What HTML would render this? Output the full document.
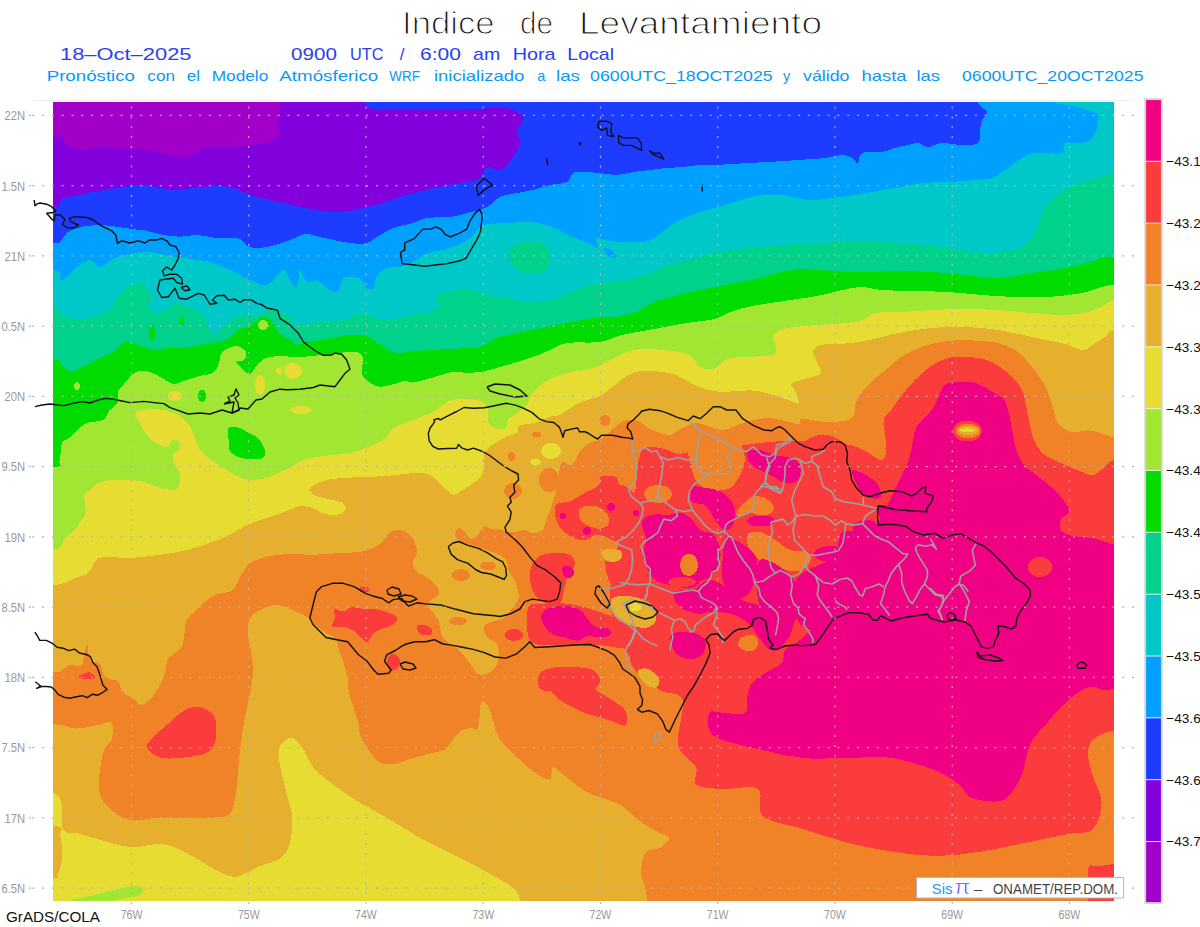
<!DOCTYPE html>
<html><head><meta charset="utf-8"><title>Indice de Levantamiento</title>
<style>
html,body{margin:0;padding:0;background:#fff;}
body{width:1200px;height:927px;overflow:hidden;position:relative;}
svg{position:absolute;left:0;top:0;}
text{font-family:"Liberation Sans",sans-serif;}
</style></head><body>
<svg width="1200" height="927" viewBox="0 0 1200 927">
<defs><clipPath id="mc"><rect x="53" y="102" width="1061" height="799"/></clipPath><clipPath id="fc"><rect x="33" y="101" width="1101" height="802"/></clipPath></defs>

<g clip-path="url(#mc)" shape-rendering="crispEdges">
<rect x="53" y="102" width="1061" height="799" fill="#1e3cff"/>
<path fill="#8200dc" d="M-20.0 85.0 L353.0 85.0 L367.0 107.0 C374.8 111.2 386.2 109.5 400.0 110.0 C413.8 110.5 433.3 110.3 450.0 110.0 C466.7 109.7 489.5 108.0 500.0 108.0 C510.5 108.0 509.2 108.3 513.0 110.0 C516.8 111.7 522.3 114.3 523.0 118.0 C523.7 121.7 517.5 127.8 517.0 132.0 C516.5 136.2 520.7 138.8 520.0 143.0 C519.3 147.2 516.3 152.5 513.0 157.0 C509.7 161.5 504.3 168.3 500.0 170.0 C495.7 171.7 490.3 165.7 487.0 167.0 C483.7 168.3 483.3 175.5 480.0 178.0 C476.7 180.5 474.8 180.3 467.0 182.0 C459.2 183.7 444.2 185.5 433.0 188.0 C421.8 190.5 408.3 194.5 400.0 197.0 C391.7 199.5 388.5 201.3 383.0 203.0 C377.5 204.7 372.5 205.7 367.0 207.0 C361.5 208.3 355.7 210.2 350.0 211.0 C344.3 211.8 338.5 212.2 333.0 212.0 C327.5 211.8 322.5 210.8 317.0 210.0 C311.5 209.2 305.7 208.2 300.0 207.0 C294.3 205.8 291.3 205.0 283.0 203.0 C274.7 201.0 258.8 197.7 250.0 195.0 C241.2 192.3 238.3 188.3 230.0 187.0 C221.7 185.7 208.8 186.5 200.0 187.0 C191.2 187.5 183.7 189.8 177.0 190.0 C170.3 190.2 165.7 188.8 160.0 188.0 C154.3 187.2 150.2 185.0 143.0 185.0 C135.8 185.0 125.3 186.8 117.0 188.0 C108.7 189.2 100.8 190.5 93.0 192.0 C85.2 193.5 75.5 195.7 70.0 197.0 C64.5 198.3 62.8 198.3 60.0 200.0 C57.2 201.7 66.3 205.8 53.0 207.0 L-20.0 207.0 L-20.0 85.0 Z"/>
<path fill="#a000c8" d="M-20.0 85.0 L277.0 85.0 L280.0 113.0 C280.0 119.3 277.0 119.3 277.0 123.0 C277.0 126.7 282.3 131.7 280.0 135.0 C277.7 138.3 270.2 141.0 263.0 143.0 C255.8 145.0 246.3 146.2 237.0 147.0 C227.7 147.8 214.8 146.7 207.0 148.0 C199.2 149.3 195.0 153.5 190.0 155.0 C185.0 156.5 183.7 157.8 177.0 157.0 C170.3 156.2 158.3 151.3 150.0 150.0 C141.7 148.7 134.2 149.5 127.0 149.0 C119.8 148.5 112.7 147.0 107.0 147.0 C101.3 147.0 97.5 148.5 93.0 149.0 C88.5 149.5 83.8 150.3 80.0 150.0 C76.2 149.7 72.5 148.3 70.0 147.0 C67.5 145.7 66.3 143.8 65.0 142.0 C63.7 140.2 64.0 136.8 62.0 136.0 C60.0 135.2 66.7 136.8 53.0 137.0 L-20.0 137.0 L-20.0 85.0 Z"/>
<path fill="#00a0ff" d="M-20.0 243.0 L53.0 243.0 C66.3 242.8 57.5 243.6 60.0 241.7 C62.5 239.8 65.0 234.1 68.3 231.7 C71.6 229.3 76.7 228.5 80.0 227.5 C83.3 226.5 84.1 226.2 88.3 225.8 C92.5 225.4 99.4 225.0 105.0 225.3 C110.6 225.6 117.0 226.8 121.7 227.5 C126.4 228.2 129.1 228.6 133.3 229.2 C137.5 229.8 141.7 229.8 146.7 230.8 C151.7 231.8 157.8 234.0 163.3 235.0 C168.9 236.0 174.4 236.7 180.0 236.7 C185.6 236.7 191.1 234.9 196.7 235.0 C202.2 235.1 207.8 236.9 213.3 237.5 C218.9 238.1 225.6 238.1 230.0 238.3 C234.4 238.6 236.7 237.6 240.0 239.0 C243.3 240.4 245.5 245.7 250.0 247.0 C254.5 248.3 260.3 248.2 267.0 247.0 C273.7 245.8 283.7 242.2 290.0 240.0 C296.3 237.8 300.0 234.5 305.0 234.0 C310.0 233.5 312.5 235.5 320.0 237.0 C327.5 238.5 342.2 242.0 350.0 243.0 C357.8 244.0 362.5 244.0 367.0 243.0 C371.5 242.0 372.7 239.5 377.0 237.0 C381.3 234.5 387.0 230.3 393.0 228.0 C399.0 225.7 407.3 224.7 413.0 223.0 C418.7 221.3 420.8 219.0 427.0 218.0 C433.2 217.0 443.3 217.8 450.0 217.0 C456.7 216.2 460.8 214.7 467.0 213.0 C473.2 211.3 481.5 209.7 487.0 207.0 C492.5 204.3 495.0 199.3 500.0 197.0 C505.0 194.7 511.5 194.2 517.0 193.0 C522.5 191.8 527.5 191.3 533.0 190.0 C538.5 188.7 544.3 186.3 550.0 185.0 C555.7 183.7 563.2 184.0 567.0 182.0 C570.8 180.0 570.3 174.7 573.0 173.0 C575.7 171.3 578.5 172.0 583.0 172.0 C587.5 172.0 594.3 172.5 600.0 173.0 C605.7 173.5 611.5 175.2 617.0 175.0 C622.5 174.8 627.5 172.8 633.0 172.0 C638.5 171.2 644.3 170.7 650.0 170.0 C655.7 169.3 661.5 168.5 667.0 168.0 C672.5 167.5 677.5 167.5 683.0 167.0 C688.5 166.5 694.7 165.3 700.0 165.0 C705.3 164.7 707.0 165.3 715.0 165.0 C723.0 164.7 739.2 163.5 748.0 163.0 C756.8 162.5 759.7 162.5 768.0 162.0 C776.3 161.5 788.5 160.7 798.0 160.0 C807.5 159.3 817.7 158.8 825.0 158.0 C832.3 157.2 837.5 155.0 842.0 155.0 C846.5 155.0 849.3 156.7 852.0 158.0 C854.7 159.3 856.3 163.8 858.0 163.0 C859.7 162.2 858.0 154.8 862.0 153.0 C866.0 151.2 876.5 152.8 882.0 152.0 C887.5 151.2 890.7 149.2 895.0 148.0 C899.3 146.8 904.2 145.8 908.0 145.0 C911.8 144.2 914.7 142.7 918.0 143.0 C921.3 143.3 924.0 147.0 928.0 147.0 C932.0 147.0 936.3 143.3 942.0 143.0 C947.7 142.7 956.0 145.0 962.0 145.0 C968.0 145.0 975.0 145.5 978.0 143.0 C981.0 140.5 979.3 133.8 980.0 130.0 C980.7 126.2 980.8 123.0 982.0 120.0 C983.2 117.0 987.7 114.8 987.0 112.0 C986.3 109.2 979.5 107.5 978.0 103.0 L978.0 85.0 L1140.0 85.0 L1140.0 920.0 L-20.0 920.0 L-20.0 243.0 Z"/>
<path fill="#00c8c8" d="M-20.0 270.0 L53.0 270.0 C66.3 271.7 57.7 278.8 60.0 280.0 C62.3 281.2 64.2 279.2 67.0 277.0 C69.8 274.8 73.2 269.8 77.0 267.0 C80.8 264.2 86.2 260.0 90.0 260.0 C93.8 260.0 95.5 267.5 100.0 267.0 C104.5 266.5 110.8 259.3 117.0 257.0 C123.2 254.7 131.5 253.8 137.0 253.0 C142.5 252.2 143.3 251.3 150.0 252.0 C156.7 252.7 169.2 255.7 177.0 257.0 C184.8 258.3 191.5 259.2 197.0 260.0 C202.5 260.8 204.5 260.3 210.0 262.0 C215.5 263.7 223.3 267.0 230.0 270.0 C236.7 273.0 243.8 277.5 250.0 280.0 C256.2 282.5 261.5 286.7 267.0 285.0 C272.5 283.3 279.2 270.8 283.0 270.0 C286.8 269.2 287.7 277.2 290.0 280.0 C292.3 282.8 295.3 288.7 297.0 287.0 C298.7 285.3 298.7 271.2 300.0 270.0 C301.3 268.8 303.1 278.1 305.0 280.0 C306.9 281.9 310.0 281.7 311.7 281.7 C313.4 281.7 313.3 279.7 315.0 280.0 C316.7 280.3 319.2 281.6 321.7 283.3 C324.2 285.0 327.2 288.6 330.0 290.0 C332.8 291.4 336.1 293.6 338.3 291.7 C340.5 289.8 340.0 280.7 343.3 278.3 C346.6 275.9 355.0 276.7 358.3 277.5 C361.6 278.3 361.9 281.5 363.3 283.3 C364.7 285.1 365.0 287.5 366.7 288.3 C368.4 289.1 371.6 290.2 373.3 288.3 C375.0 286.4 374.5 280.0 376.7 276.7 C378.9 273.4 382.8 269.9 386.7 268.3 C390.6 266.7 396.4 267.7 400.0 267.0 C403.6 266.3 405.2 265.2 408.0 264.0 C410.8 262.8 414.2 261.7 417.0 260.0 C419.8 258.3 420.8 255.7 425.0 254.0 C429.2 252.3 436.5 251.5 442.0 250.0 C447.5 248.5 453.0 247.2 458.0 245.0 C463.0 242.8 468.3 240.0 472.0 237.0 C475.7 234.0 477.0 229.2 480.0 227.0 C483.0 224.8 485.0 224.7 490.0 224.0 C495.0 223.3 503.3 223.3 510.0 223.0 C516.7 222.7 523.3 221.5 530.0 222.0 C536.7 222.5 544.0 224.0 550.0 226.0 C556.0 228.0 561.0 231.7 566.0 234.0 C571.0 236.3 576.0 238.3 580.0 240.0 C584.0 241.7 587.0 242.7 590.0 244.0 C593.0 245.3 597.0 249.0 598.0 248.0 C599.0 247.0 595.0 239.3 596.0 238.0 C597.0 236.7 600.0 239.3 604.0 240.0 C608.0 240.7 614.0 241.7 620.0 242.0 C626.0 242.3 635.0 242.3 640.0 242.0 C645.0 241.7 646.7 241.3 650.0 240.0 C653.3 238.7 656.7 236.3 660.0 234.0 C663.3 231.7 666.7 228.3 670.0 226.0 C673.3 223.7 675.0 222.3 680.0 220.0 C685.0 217.7 694.2 214.0 700.0 212.0 C705.8 210.0 709.7 209.5 715.0 208.0 C720.3 206.5 726.5 204.7 732.0 203.0 C737.5 201.3 742.5 199.3 748.0 198.0 C753.5 196.7 759.3 195.5 765.0 195.0 C770.7 194.5 774.8 194.2 782.0 195.0 C789.2 195.8 799.7 199.5 808.0 200.0 C816.3 200.5 824.2 198.8 832.0 198.0 C839.8 197.2 846.7 196.3 855.0 195.0 C863.3 193.7 874.2 191.3 882.0 190.0 C889.8 188.7 895.3 188.2 902.0 187.0 C908.7 185.8 914.3 183.8 922.0 183.0 C929.7 182.2 939.2 182.5 948.0 182.0 C956.8 181.5 967.7 180.7 975.0 180.0 C982.3 179.3 987.0 179.7 992.0 178.0 C997.0 176.3 1000.0 173.3 1005.0 170.0 C1010.0 166.7 1017.0 160.8 1022.0 158.0 C1027.0 155.2 1028.3 153.8 1035.0 153.0 C1041.7 152.2 1057.0 154.7 1062.0 153.0 C1067.0 151.3 1061.7 144.7 1065.0 143.0 C1068.3 141.3 1077.5 143.8 1082.0 143.0 C1086.5 142.2 1089.5 140.7 1092.0 138.0 C1094.5 135.3 1096.0 130.8 1097.0 127.0 C1098.0 123.2 1099.5 117.8 1098.0 115.0 C1096.5 112.2 1093.0 111.7 1088.0 110.0 C1083.0 108.3 1073.5 106.3 1068.0 105.0 C1062.5 103.7 1057.2 105.3 1055.0 102.0 L1055.0 85.0 L1140.0 85.0 L1140.0 920.0 L-20.0 920.0 L-20.0 270.0 Z"/>
<path fill="#00d28c" d="M-20.0 308.0 L53.0 308.0 C66.3 309.0 57.2 312.3 60.0 314.0 C62.8 315.7 66.7 317.2 70.0 318.0 C73.3 318.8 76.7 319.0 80.0 319.0 C83.3 319.0 86.7 318.7 90.0 318.0 C93.3 317.3 96.7 316.7 100.0 315.0 C103.3 313.3 107.3 310.5 110.0 308.0 C112.7 305.5 114.0 302.7 116.0 300.0 C118.0 297.3 119.7 294.3 122.0 292.0 C124.3 289.7 127.3 287.3 130.0 286.0 C132.7 284.7 135.3 284.0 138.0 284.0 C140.7 284.0 143.7 283.7 146.0 286.0 C148.3 288.3 151.7 294.7 152.0 298.0 C152.3 301.3 147.7 303.7 148.0 306.0 C148.3 308.3 151.7 311.0 154.0 312.0 C156.3 313.0 159.3 313.0 162.0 312.0 C164.7 311.0 167.0 307.3 170.0 306.0 C173.0 304.7 176.7 303.7 180.0 304.0 C183.3 304.3 186.3 306.3 190.0 308.0 C193.7 309.7 199.3 312.0 202.0 314.0 C204.7 316.0 204.7 317.3 206.0 320.0 C207.3 322.7 208.3 327.7 210.0 330.0 C211.7 332.3 213.7 334.7 216.0 334.0 C218.3 333.3 221.0 328.7 224.0 326.0 C227.0 323.3 231.0 320.0 234.0 318.0 C237.0 316.0 239.3 314.3 242.0 314.0 C244.7 313.7 247.3 316.0 250.0 316.0 C252.7 316.0 255.3 315.0 258.0 314.0 C260.7 313.0 263.3 310.7 266.0 310.0 C268.7 309.3 271.7 309.7 274.0 310.0 C276.3 310.3 277.9 311.2 280.0 312.0 C282.1 312.8 284.6 313.9 286.7 315.0 C288.8 316.1 291.4 316.6 292.5 318.3 C293.6 320.0 289.8 324.3 293.3 325.0 C296.8 325.7 307.2 323.1 313.3 322.5 C319.4 321.9 324.4 322.2 330.0 321.7 C335.6 321.1 342.5 320.3 346.7 319.2 C350.9 318.1 352.2 316.0 355.0 315.0 C357.8 314.0 360.2 313.0 363.3 313.3 C366.4 313.6 370.0 315.6 373.3 316.7 C376.6 317.8 379.4 319.7 383.3 320.0 C387.2 320.3 391.7 319.1 396.7 318.3 C401.7 317.5 407.8 316.1 413.3 315.0 C418.9 313.9 425.6 313.2 430.0 311.7 C434.4 310.2 439.0 308.3 440.0 306.0 C441.0 303.7 434.8 300.3 436.0 298.0 C437.2 295.7 442.5 293.3 447.0 292.0 C451.5 290.7 458.3 290.2 463.0 290.0 C467.7 289.8 471.0 290.2 475.0 291.0 C479.0 291.8 481.7 293.8 487.0 295.0 C492.3 296.2 500.3 296.8 507.0 298.0 C513.7 299.2 519.8 301.7 527.0 302.0 C534.2 302.3 543.3 301.3 550.0 300.0 C556.7 298.7 561.5 296.2 567.0 294.0 C572.5 291.8 577.5 288.8 583.0 287.0 C588.5 285.2 594.3 284.0 600.0 283.0 C605.7 282.0 611.5 281.8 617.0 281.0 C622.5 280.2 627.5 279.3 633.0 278.0 C638.5 276.7 644.3 275.0 650.0 273.0 C655.7 271.0 661.5 268.0 667.0 266.0 C672.5 264.0 677.5 262.5 683.0 261.0 C688.5 259.5 694.7 258.3 700.0 257.0 C705.3 255.7 707.0 254.5 715.0 253.0 C723.0 251.5 736.8 249.3 748.0 248.0 C759.2 246.7 770.8 245.8 782.0 245.0 C793.2 244.2 804.0 243.5 815.0 243.0 C826.0 242.5 836.8 242.2 848.0 242.0 C859.2 241.8 870.8 241.7 882.0 242.0 C893.2 242.3 904.0 243.0 915.0 244.0 C926.0 245.0 936.8 246.5 948.0 248.0 C959.2 249.5 973.0 252.3 982.0 253.0 C991.0 253.7 995.3 253.0 1002.0 252.0 C1008.7 251.0 1016.5 250.2 1022.0 247.0 C1027.5 243.8 1031.7 238.7 1035.0 233.0 C1038.3 227.3 1039.8 218.0 1042.0 213.0 C1044.2 208.0 1044.2 206.8 1048.0 203.0 C1051.8 199.2 1059.3 193.5 1065.0 190.0 C1070.7 186.5 1076.5 184.0 1082.0 182.0 C1087.5 180.0 1092.7 179.5 1098.0 178.0 C1103.3 176.5 1107.0 173.8 1114.0 173.0 L1140.0 173.0 L1140.0 920.0 L-20.0 920.0 L-20.0 308.0 Z"/>
<path fill="#00dc00" d="M-20.0 360.0 L53.0 360.0 C66.3 360.7 57.2 362.0 60.0 364.0 C62.8 366.0 66.7 371.3 70.0 372.0 C73.3 372.7 76.7 369.3 80.0 368.0 C83.3 366.7 86.7 365.7 90.0 364.0 C93.3 362.3 96.7 359.7 100.0 358.0 C103.3 356.3 106.7 356.0 110.0 354.0 C113.3 352.0 117.3 348.0 120.0 346.0 C122.7 344.0 123.3 342.3 126.0 342.0 C128.7 341.7 132.7 343.0 136.0 344.0 C139.3 345.0 142.7 347.0 146.0 348.0 C149.3 349.0 152.7 350.0 156.0 350.0 C159.3 350.0 162.7 348.3 166.0 348.0 C169.3 347.7 172.0 348.2 176.0 348.0 C180.0 347.8 185.0 347.7 190.0 347.0 C195.0 346.3 201.0 344.8 206.0 344.0 C211.0 343.2 216.0 343.0 220.0 342.0 C224.0 341.0 227.0 340.0 230.0 338.0 C233.0 336.0 234.7 332.0 238.0 330.0 C241.3 328.0 246.3 328.0 250.0 326.0 C253.7 324.0 257.0 319.3 260.0 318.0 C263.0 316.7 265.3 316.3 268.0 318.0 C270.7 319.7 273.7 325.0 276.0 328.0 C278.3 331.0 279.7 334.0 282.0 336.0 C284.3 338.0 287.6 338.5 290.0 340.0 C292.4 341.5 294.2 344.7 296.7 345.0 C299.2 345.3 300.8 342.5 305.0 341.7 C309.2 340.9 316.1 340.8 321.7 340.0 C327.2 339.2 333.6 337.5 338.3 336.7 C343.0 335.9 345.8 335.3 350.0 335.0 C354.2 334.7 359.4 334.2 363.3 335.0 C367.2 335.8 370.0 338.1 373.3 340.0 C376.6 341.9 379.4 344.5 383.3 346.7 C387.2 348.9 392.8 352.5 396.7 353.3 C400.6 354.1 401.1 352.2 406.7 351.7 C412.2 351.1 423.3 350.4 430.0 350.0 C436.7 349.6 441.1 349.5 446.7 349.2 C452.2 348.9 457.8 348.7 463.3 348.3 C468.9 347.9 473.9 348.9 480.0 347.0 C486.1 345.1 491.2 339.8 500.0 337.0 C508.8 334.2 521.8 332.3 533.0 330.0 C544.2 327.7 555.8 325.2 567.0 323.0 C578.2 320.8 591.7 318.0 600.0 317.0 C608.3 316.0 610.8 317.8 617.0 317.0 C623.2 316.2 630.8 314.5 637.0 312.0 C643.2 309.5 645.7 305.2 654.0 302.0 C662.3 298.8 676.2 295.7 687.0 293.0 C697.8 290.3 708.2 288.2 719.0 286.0 C729.8 283.8 741.5 282.3 752.0 280.0 C762.5 277.7 773.7 273.8 782.0 272.0 C790.3 270.2 793.7 269.2 802.0 269.0 C810.3 268.8 821.5 270.5 832.0 271.0 C842.5 271.5 854.0 272.0 865.0 272.0 C876.0 272.0 886.8 271.0 898.0 271.0 C909.2 271.0 920.8 271.3 932.0 272.0 C943.2 272.7 954.0 274.0 965.0 275.0 C976.0 276.0 986.8 278.3 998.0 278.0 C1009.2 277.7 1020.8 274.7 1032.0 273.0 C1043.2 271.3 1055.7 269.7 1065.0 268.0 C1074.3 266.3 1081.8 264.7 1088.0 263.0 C1094.2 261.3 1097.7 259.0 1102.0 258.0 C1106.3 257.0 1107.7 257.2 1114.0 257.0 L1140.0 257.0 L1140.0 920.0 L-20.0 920.0 L-20.0 360.0 Z"/>
<path fill="#a0e632" d="M-20.0 467.0 L53.0 467.0 C66.2 466.0 58.0 465.0 59.5 461.0 C61.0 457.0 60.4 446.8 62.0 443.0 C63.6 439.2 65.2 441.2 69.0 438.0 C72.8 434.8 79.3 427.0 85.0 424.0 C90.7 421.0 99.0 422.2 103.0 420.0 C107.0 417.8 106.5 414.0 109.0 411.0 C111.5 408.0 116.5 405.2 118.0 402.0 C119.5 398.8 117.0 395.0 118.0 392.0 C119.0 389.0 121.0 387.3 124.0 384.0 C127.0 380.7 131.7 374.0 136.0 372.0 C140.3 370.0 145.7 371.0 150.0 372.0 C154.3 373.0 158.0 376.0 162.0 378.0 C166.0 380.0 170.0 383.7 174.0 384.0 C178.0 384.3 181.7 381.3 186.0 380.0 C190.3 378.7 195.3 377.3 200.0 376.0 C204.7 374.7 210.7 374.7 214.0 372.0 C217.3 369.3 218.7 363.3 220.0 360.0 C221.3 356.7 219.3 354.3 222.0 352.0 C224.7 349.7 232.0 346.0 236.0 346.0 C240.0 346.0 244.7 349.7 246.0 352.0 C247.3 354.3 245.7 358.3 244.0 360.0 C242.3 361.7 236.3 360.7 236.0 362.0 C235.7 363.3 239.7 366.0 242.0 368.0 C244.3 370.0 247.3 374.7 250.0 374.0 C252.7 373.3 255.3 366.7 258.0 364.0 C260.7 361.3 262.3 359.3 266.0 358.0 C269.7 356.7 276.0 356.2 280.0 356.0 C284.0 355.8 285.8 356.6 290.0 356.7 C294.2 356.8 299.7 357.0 305.0 356.7 C310.3 356.4 316.1 355.6 321.7 355.0 C327.2 354.4 333.6 353.9 338.3 353.3 C343.0 352.8 346.4 351.7 350.0 351.7 C353.6 351.7 357.8 351.9 360.0 353.3 C362.2 354.7 363.0 356.7 363.3 360.0 C363.6 363.3 360.9 369.7 361.7 373.3 C362.5 376.9 365.2 379.5 368.3 381.7 C371.4 383.9 375.3 386.4 380.0 386.7 C384.7 387.0 392.5 384.3 396.7 383.3 C400.9 382.3 402.2 380.9 405.0 380.8 C407.8 380.7 409.1 382.9 413.3 382.5 C417.5 382.1 424.4 379.8 430.0 378.3 C435.6 376.8 442.5 374.4 446.7 373.3 C450.9 372.2 452.2 371.8 455.0 371.7 C457.8 371.6 459.1 372.4 463.3 372.5 C467.5 372.6 473.9 372.9 480.0 372.0 C486.1 371.1 491.2 369.5 500.0 367.0 C508.8 364.5 524.7 359.8 533.0 357.0 C541.3 354.2 544.3 352.3 550.0 350.0 C555.7 347.7 558.7 344.3 567.0 343.0 C575.3 341.7 590.8 343.3 600.0 342.0 C609.2 340.7 613.0 337.2 622.0 335.0 C631.0 332.8 643.2 331.0 654.0 329.0 C664.8 327.0 676.8 324.7 687.0 323.0 C697.2 321.3 707.8 320.8 715.0 319.0 C722.2 317.2 723.8 314.2 730.0 312.0 C736.2 309.8 743.0 307.8 752.0 306.0 C761.0 304.2 773.2 302.7 784.0 301.0 C794.8 299.3 808.0 297.7 817.0 296.0 C826.0 294.3 830.8 292.5 838.0 291.0 C845.2 289.5 852.7 287.2 860.0 287.0 C867.3 286.8 872.8 289.3 882.0 290.0 C891.2 290.7 904.0 290.7 915.0 291.0 C926.0 291.3 936.8 291.3 948.0 292.0 C959.2 292.7 970.8 294.2 982.0 295.0 C993.2 295.8 1004.0 296.7 1015.0 297.0 C1026.0 297.3 1036.8 297.7 1048.0 297.0 C1059.2 296.3 1073.0 294.7 1082.0 293.0 C1091.0 291.3 1096.7 288.3 1102.0 287.0 C1107.3 285.7 1107.7 285.3 1114.0 285.0 L1140.0 285.0 L1140.0 920.0 L-20.0 920.0 L-20.0 467.0 Z"/>
<path fill="#e6dc32" d="M-20.0 549.5 L53.0 549.5 C67.0 547.8 60.3 542.2 64.0 539.0 C67.7 535.8 72.2 533.0 75.0 530.0 C77.8 527.0 79.2 523.8 81.0 521.0 C82.8 518.2 84.9 517.3 85.5 513.0 C86.1 508.7 83.7 498.7 84.4 495.0 C85.2 491.3 87.7 493.0 90.0 491.0 C92.3 489.0 94.5 484.8 98.5 483.0 C102.5 481.2 107.1 480.3 114.0 480.0 C120.9 479.7 132.8 479.8 140.0 481.0 C147.2 482.2 151.3 485.5 157.0 487.0 C162.7 488.5 170.3 490.4 174.0 490.0 C177.7 489.6 178.0 487.2 179.0 484.5 C180.0 481.8 180.8 477.6 180.0 474.0 C179.2 470.4 175.2 466.3 174.0 463.0 C172.8 459.7 172.2 456.2 173.0 454.0 C173.8 451.8 178.0 452.0 179.0 450.0 C180.0 448.0 180.0 443.7 179.0 442.0 C178.0 440.3 175.2 439.2 173.0 440.0 C170.8 440.8 169.8 447.2 166.0 447.0 C162.2 446.8 154.8 442.8 150.5 439.0 C146.2 435.2 142.4 428.3 140.0 424.0 C137.6 419.7 135.3 415.3 136.0 413.0 C136.7 410.7 140.5 410.7 144.0 410.0 C147.5 409.3 152.0 408.5 157.0 409.0 C162.0 409.5 169.0 410.8 174.0 413.0 C179.0 415.2 183.7 418.3 187.0 422.0 C190.3 425.7 191.8 430.3 194.0 435.0 C196.2 439.7 196.4 445.3 200.0 450.0 C203.6 454.7 209.3 458.7 215.5 463.0 C221.7 467.3 230.9 473.2 237.0 476.0 C243.1 478.8 246.5 479.8 252.0 480.0 C257.5 480.2 263.5 479.2 270.0 477.0 C276.5 474.8 286.0 469.7 291.0 467.0 C296.0 464.3 295.7 462.7 300.0 461.0 C304.3 459.3 311.6 458.0 317.0 457.0 C322.4 456.0 326.3 455.8 332.5 455.0 C338.7 454.2 347.5 453.6 354.0 452.0 C360.5 450.4 366.0 448.0 371.5 445.5 C377.0 443.0 383.4 439.9 387.0 437.0 C390.6 434.1 389.5 430.5 393.0 428.0 C396.5 425.5 401.8 424.5 408.0 422.0 C414.2 419.5 424.5 415.6 430.0 413.0 C435.5 410.4 437.3 408.7 441.0 406.5 C444.7 404.3 447.2 401.2 452.0 400.0 C456.8 398.8 464.3 398.3 470.0 399.0 C475.7 399.7 482.9 400.2 486.0 404.0 C489.1 407.8 487.0 417.7 488.5 421.7 C490.0 425.7 492.1 426.9 495.0 428.0 C497.9 429.1 503.8 429.4 506.0 428.0 C508.2 426.6 506.2 422.0 508.0 419.5 C509.8 417.0 513.8 415.6 517.0 413.0 C520.2 410.4 524.8 407.5 527.5 404.0 C530.2 400.5 529.2 396.2 533.0 392.0 C536.8 387.8 544.3 382.2 550.0 379.0 C555.7 375.8 561.2 374.5 567.0 373.0 C572.8 371.5 579.5 371.2 585.0 370.0 C590.5 368.8 593.8 368.3 600.0 365.6 C606.2 362.9 614.8 356.8 622.0 354.0 C629.2 351.2 634.0 349.4 643.0 349.0 C652.0 348.6 668.0 350.3 676.0 351.5 C684.0 352.7 687.0 353.4 691.0 356.0 C695.0 358.6 696.3 364.8 700.0 367.0 C703.7 369.2 708.7 370.2 713.0 369.0 C717.3 367.8 721.3 362.0 726.0 360.0 C730.7 358.0 733.2 357.8 741.0 357.0 C748.8 356.2 767.2 357.0 773.0 355.0 C778.8 353.0 775.5 348.2 775.5 345.0 C775.5 341.8 771.6 338.7 773.0 336.0 C774.4 333.3 778.5 330.8 784.0 329.0 C789.5 327.2 798.8 326.3 806.0 325.5 C813.2 324.7 818.5 325.1 827.5 324.4 C836.5 323.6 852.1 322.9 860.0 321.0 C867.9 319.1 868.0 314.5 875.0 313.0 C882.0 311.5 892.5 312.5 902.0 312.0 C911.5 311.5 921.5 310.5 932.0 310.0 C942.5 309.5 954.0 309.0 965.0 309.0 C976.0 309.0 986.8 309.3 998.0 310.0 C1009.2 310.7 1020.8 312.2 1032.0 313.0 C1043.2 313.8 1055.7 315.2 1065.0 315.0 C1074.3 314.8 1081.3 313.7 1088.0 312.0 C1094.7 310.3 1100.7 307.0 1105.0 305.0 C1109.3 303.0 1108.2 300.8 1114.0 300.0 L1140.0 300.0 L1140.0 920.0 L-20.0 920.0 L-20.0 549.5 Z"/>
<path fill="#e6af2d" d="M-20.0 585.0 L53.0 585.0 C68.8 583.8 69.2 580.0 75.0 578.0 C80.8 576.0 84.5 576.0 88.0 573.0 C91.5 570.0 92.8 562.7 96.0 560.0 C99.2 557.3 101.5 557.3 107.0 557.0 C112.5 556.7 121.8 558.2 129.0 558.0 C136.2 557.8 143.3 556.8 150.5 556.0 C157.7 555.2 164.8 554.3 172.0 553.0 C179.2 551.7 185.0 550.8 194.0 548.0 C203.0 545.2 217.0 540.4 226.0 536.5 C235.0 532.6 240.7 527.9 248.0 524.6 C255.3 521.4 262.8 519.6 270.0 517.0 C277.2 514.4 286.0 511.8 291.0 509.0 C296.0 506.2 296.7 503.5 300.0 500.0 C303.3 496.5 308.5 490.6 311.0 488.0 C313.5 485.4 312.5 485.8 315.0 484.5 C317.5 483.2 321.3 481.1 326.0 480.0 C330.7 478.9 336.5 478.5 343.0 478.0 C349.5 477.5 357.7 477.3 365.0 477.0 C372.3 476.7 380.5 476.5 387.0 476.0 C393.5 475.5 398.7 474.5 404.0 474.0 C409.3 473.5 414.7 472.8 419.0 473.0 C423.3 473.2 426.3 473.1 430.0 475.0 C433.7 476.9 437.3 481.3 441.0 484.5 C444.7 487.7 449.2 492.6 452.0 494.0 C454.8 495.4 455.5 494.2 458.0 493.0 C460.5 491.8 463.7 489.2 467.0 487.0 C470.3 484.8 475.2 483.0 478.0 480.0 C480.8 477.0 483.0 473.0 484.0 469.0 C485.0 465.0 483.7 459.2 484.0 456.0 C484.3 452.8 484.2 452.2 486.0 450.0 C487.8 447.8 491.7 445.2 495.0 443.0 C498.3 440.8 502.3 438.8 506.0 437.0 C509.7 435.2 514.8 434.3 517.0 432.5 C519.2 430.7 517.2 427.4 519.0 426.0 C520.8 424.6 524.3 424.7 527.5 424.0 C530.7 423.3 534.4 423.2 538.0 422.0 C541.6 420.8 545.3 418.2 549.0 417.0 C552.7 415.8 555.7 417.0 560.0 415.0 C564.3 413.0 570.0 407.7 575.0 405.0 C580.0 402.3 585.8 400.5 590.0 399.0 C594.2 397.5 596.5 397.8 600.0 396.0 C603.5 394.2 605.6 391.8 611.0 388.0 C616.4 384.2 625.3 375.8 632.5 373.0 C639.7 370.2 646.8 370.7 654.0 371.0 C661.2 371.3 668.8 372.5 676.0 375.0 C683.2 377.5 690.3 383.2 697.5 386.0 C704.7 388.8 709.9 390.9 719.0 391.6 C728.1 392.4 743.0 389.9 752.0 390.5 C761.0 391.1 766.5 393.2 773.0 395.0 C779.5 396.8 786.7 399.6 791.0 401.0 C795.3 402.4 798.3 405.2 799.0 403.5 C799.7 401.8 796.3 393.8 795.0 390.5 C793.7 387.2 789.2 386.0 791.0 384.0 C792.8 382.0 801.0 380.4 806.0 378.6 C811.0 376.8 819.2 375.8 821.0 373.0 C822.8 370.2 818.3 365.6 817.0 362.0 C815.7 358.4 812.3 354.3 813.0 351.5 C813.7 348.7 816.8 346.2 821.0 345.0 C825.2 343.8 831.5 344.5 838.0 344.0 C844.5 343.5 852.7 343.2 860.0 342.0 C867.3 340.8 875.7 338.5 882.0 337.0 C888.3 335.5 889.7 334.5 898.0 333.0 C906.3 331.5 920.8 329.0 932.0 328.0 C943.2 327.0 954.0 326.7 965.0 327.0 C976.0 327.3 986.8 328.3 998.0 330.0 C1009.2 331.7 1020.8 334.7 1032.0 337.0 C1043.2 339.3 1056.7 341.8 1065.0 344.0 C1073.3 346.2 1077.8 349.5 1082.0 350.0 C1086.2 350.5 1086.2 349.2 1090.0 347.0 C1093.8 344.8 1101.0 339.8 1105.0 337.0 C1109.0 334.2 1108.2 331.2 1114.0 330.0 L1140.0 330.0 L1140.0 920.0 L-20.0 920.0 L-20.0 585.0 Z"/>
<path fill="#f08228" d="M-20.0 672.0 L53.0 672.0 C66.7 671.7 59.2 671.2 62.0 670.0 C64.8 668.8 66.8 665.7 70.0 665.0 C73.2 664.3 78.7 667.3 81.0 666.0 C83.3 664.7 83.0 660.7 84.0 657.0 C85.0 653.3 86.0 643.3 87.0 644.0 C88.0 644.7 88.5 658.0 90.0 661.0 C91.5 664.0 94.2 661.2 96.0 662.0 C97.8 662.8 99.8 664.0 101.0 666.0 C102.2 668.0 101.7 671.8 103.0 674.0 C104.3 676.2 106.5 677.8 109.0 679.0 C111.5 680.2 115.8 678.8 118.0 681.0 C120.2 683.2 120.2 689.5 122.0 692.0 C123.8 694.5 126.8 694.7 129.0 696.0 C131.2 697.3 132.8 698.5 135.0 700.0 C137.2 701.5 139.0 705.7 142.0 705.0 C145.0 704.3 149.8 699.7 153.0 696.0 C156.2 692.3 158.8 687.3 161.0 683.0 C163.2 678.7 164.8 674.0 166.0 670.0 C167.2 666.0 165.5 662.7 168.0 659.0 C170.5 655.3 178.3 651.7 181.0 648.0 C183.7 644.3 183.2 641.3 184.0 637.0 C184.8 632.7 184.7 625.8 186.0 622.0 C187.3 618.2 188.8 617.3 192.0 614.0 C195.2 610.7 201.2 605.2 205.0 602.0 C208.8 598.8 210.7 596.8 215.0 595.0 C219.3 593.2 227.3 593.0 231.0 591.0 C234.7 589.0 234.8 586.5 237.0 583.0 C239.2 579.5 241.5 573.5 244.0 570.0 C246.5 566.5 247.7 564.3 252.0 562.0 C256.3 559.7 263.5 557.3 270.0 556.0 C276.5 554.7 283.8 554.2 291.0 554.0 C298.2 553.8 307.8 555.0 313.0 555.0 C318.2 555.0 317.0 554.3 322.0 554.0 C327.0 553.7 335.8 553.5 343.0 553.0 C350.2 552.5 358.8 552.5 365.0 551.0 C371.2 549.5 375.7 547.2 380.0 544.0 C384.3 540.8 387.0 534.2 391.0 532.0 C395.0 529.8 400.3 529.8 404.0 531.0 C407.7 532.2 410.8 535.5 413.0 539.0 C415.2 542.5 417.0 548.2 417.0 552.0 C417.0 555.8 413.3 559.0 413.0 562.0 C412.7 565.0 412.8 567.5 415.0 570.0 C417.2 572.5 422.8 574.8 426.0 577.0 C429.2 579.2 431.8 580.5 434.0 583.0 C436.2 585.5 439.0 589.5 439.0 592.0 C439.0 594.5 435.8 595.8 434.0 598.0 C432.2 600.2 428.0 602.3 428.0 605.0 C428.0 607.7 432.2 611.2 434.0 614.0 C435.8 616.8 437.8 618.8 439.0 622.0 C440.2 625.2 439.7 629.7 441.0 633.0 C442.3 636.3 444.5 639.5 447.0 642.0 C449.5 644.5 453.0 645.5 456.0 648.0 C459.0 650.5 462.2 653.7 465.0 657.0 C467.8 660.3 470.8 665.2 473.0 668.0 C475.2 670.8 475.8 673.0 478.0 674.0 C480.2 675.0 483.2 675.0 486.0 674.0 C488.8 673.0 492.8 670.8 495.0 668.0 C497.2 665.2 498.7 661.0 499.0 657.0 C499.3 653.0 498.3 646.8 497.0 644.0 C495.7 641.2 492.8 641.5 491.0 640.0 C489.2 638.5 487.2 637.2 486.0 635.0 C484.8 632.8 483.2 629.2 484.0 627.0 C484.8 624.8 488.5 623.2 491.0 622.0 C493.5 620.8 496.5 621.0 499.0 620.0 C501.5 619.0 503.3 618.7 506.0 616.0 C508.7 613.3 512.8 607.0 515.0 604.0 C517.2 601.0 518.5 600.2 519.0 598.0 C519.5 595.8 518.7 593.8 518.0 591.0 C517.3 588.2 516.5 584.2 515.0 581.0 C513.5 577.8 510.5 575.5 509.0 572.0 C507.5 568.5 508.3 563.2 506.0 560.0 C503.7 556.8 499.3 555.0 495.0 553.0 C490.7 551.0 484.8 549.7 480.0 548.0 C475.2 546.3 470.0 544.7 466.0 543.0 C462.0 541.3 457.5 540.3 456.0 538.0 C454.5 535.7 455.8 530.3 457.0 529.0 C458.2 527.7 460.7 528.3 463.0 530.0 C465.3 531.7 468.2 538.7 471.0 539.0 C473.8 539.3 477.7 534.2 480.0 532.0 C482.3 529.8 483.2 526.5 485.0 526.0 C486.8 525.5 488.5 528.5 491.0 529.0 C493.5 529.5 497.5 528.5 500.0 529.0 C502.5 529.5 503.5 531.5 506.0 532.0 C508.5 532.5 512.0 532.3 515.0 532.0 C518.0 531.7 521.0 529.8 524.0 530.0 C527.0 530.2 529.8 533.0 533.0 533.0 C536.2 533.0 541.0 531.7 543.0 530.0 C545.0 528.3 544.2 525.5 545.0 523.0 C545.8 520.5 547.0 517.5 548.0 515.0 C549.0 512.5 549.8 511.3 551.0 508.0 C552.2 504.7 553.8 499.7 555.0 495.0 C556.2 490.3 556.8 485.5 558.0 480.0 C559.2 474.5 559.7 464.5 562.0 462.0 C564.3 459.5 568.8 467.0 572.0 465.0 C575.2 463.0 578.0 453.7 581.0 450.0 C584.0 446.3 586.7 444.8 590.0 443.0 C593.3 441.2 597.0 441.5 601.0 439.0 C605.0 436.5 610.5 430.8 614.0 428.0 C617.5 425.2 619.2 423.4 622.0 422.0 C624.8 420.6 628.0 419.5 631.0 419.5 C634.0 419.5 637.2 420.6 640.0 422.0 C642.8 423.4 644.8 426.2 648.0 428.0 C651.2 429.8 655.3 431.3 659.0 432.5 C662.7 433.7 666.7 435.4 670.0 435.0 C673.3 434.6 675.3 431.8 679.0 430.0 C682.7 428.2 688.1 425.0 692.0 424.0 C695.9 423.0 699.0 423.3 702.5 424.0 C706.0 424.7 709.4 427.0 713.0 428.0 C716.6 429.0 720.3 430.3 724.0 430.0 C727.7 429.7 731.3 427.3 735.0 426.0 C738.7 424.7 742.3 423.1 746.0 422.0 C749.7 420.9 753.4 420.2 757.0 419.5 C760.6 418.8 764.0 418.0 767.5 418.0 C771.0 418.0 774.4 418.8 778.0 419.5 C781.6 420.2 785.3 421.2 789.0 422.0 C792.7 422.8 797.9 424.6 800.0 424.0 C802.1 423.4 797.8 419.0 801.7 418.6 C805.6 418.2 816.1 421.4 823.3 421.8 C830.5 422.2 839.9 421.9 845.0 420.8 C850.1 419.7 851.9 418.4 853.7 415.3 C855.5 412.2 854.4 406.3 855.8 402.3 C857.2 398.3 859.0 395.5 862.3 391.5 C865.5 387.5 871.0 382.5 875.3 378.5 C879.6 374.5 884.0 371.3 888.3 367.7 C892.6 364.1 896.2 360.1 901.3 356.8 C906.4 353.6 912.9 350.5 918.7 348.2 C924.5 345.9 930.2 344.1 936.0 342.8 C941.8 341.5 946.8 341.0 953.3 340.6 C959.8 340.2 967.8 340.2 975.0 340.6 C982.2 341.0 989.9 341.2 996.7 342.8 C1003.5 344.4 1010.5 346.9 1016.0 350.5 C1021.5 354.1 1025.3 359.0 1030.0 364.6 C1034.7 370.2 1040.4 377.2 1044.2 384.2 C1048.0 391.2 1050.3 400.1 1052.6 406.7 C1054.9 413.2 1054.9 419.3 1058.2 423.5 C1061.5 427.7 1067.2 430.7 1072.3 431.9 C1077.4 433.1 1083.4 430.0 1089.0 430.5 C1094.6 431.0 1101.9 433.5 1106.0 434.7 C1110.1 435.9 1108.1 437.0 1113.8 437.5 L1140.0 437.5 L1140.0 920.0 L650.0 920.0 L646.0 891.0 C644.5 883.0 641.0 878.5 641.0 872.0 C641.0 865.5 642.8 856.0 646.0 852.0 C649.2 848.0 656.2 850.3 660.0 848.0 C663.8 845.7 669.0 840.5 669.0 838.0 C669.0 835.5 664.2 835.4 660.0 833.0 C655.8 830.6 648.2 826.9 643.5 823.7 C638.8 820.5 635.5 817.2 631.5 814.0 C627.5 810.8 624.7 807.3 619.5 804.5 C614.3 801.7 606.4 799.8 600.4 797.4 C594.4 795.0 590.0 794.2 583.6 790.2 C577.2 786.2 567.2 777.2 562.0 773.4 C556.8 769.6 554.5 766.4 552.5 767.4 C550.5 768.4 552.8 778.4 550.0 779.4 C547.2 780.4 540.9 776.8 535.7 773.4 C530.5 770.0 524.2 763.8 519.0 759.0 C513.8 754.2 508.2 748.7 504.6 744.7 C501.0 740.7 499.8 740.6 497.4 735.0 C495.0 729.4 492.2 716.4 490.2 711.0 C488.2 705.6 487.0 704.0 485.4 702.8 C483.8 701.6 481.8 699.8 480.6 704.0 C479.4 708.2 479.8 724.0 478.2 728.0 C476.6 732.0 473.8 727.6 471.0 728.0 C468.2 728.4 464.2 728.7 461.4 730.3 C458.6 731.9 457.1 734.3 454.3 737.5 C451.5 740.7 449.1 746.8 444.7 749.5 C440.3 752.2 433.6 752.4 428.0 754.0 C422.4 755.6 416.6 757.4 411.0 759.0 C405.4 760.6 399.6 763.2 394.4 763.8 C389.2 764.4 384.6 765.2 380.0 762.6 C375.4 760.0 370.3 752.6 367.0 748.0 C363.7 743.4 361.4 739.0 360.0 735.0 C358.6 731.0 359.3 727.6 358.5 724.0 C357.7 720.4 356.4 716.9 355.3 713.3 C354.2 709.7 353.1 706.1 352.0 702.5 C350.9 698.9 349.5 695.7 348.8 691.7 C348.1 687.7 348.2 682.3 347.7 678.7 C347.1 675.1 346.2 672.9 345.5 670.0 C344.8 667.1 344.4 664.5 343.3 661.3 C342.2 658.0 339.9 653.4 339.0 650.5 C338.1 647.6 338.6 646.2 337.9 644.0 C337.2 641.8 336.7 639.3 334.7 637.5 C332.7 635.7 328.9 635.0 326.0 633.2 C323.1 631.4 320.2 629.2 317.3 626.7 C314.4 624.2 311.6 620.2 308.7 618.0 C305.8 615.8 302.9 615.2 300.0 613.7 C297.1 612.2 295.4 610.8 291.4 609.3 C287.4 607.8 281.3 605.0 276.2 605.0 C271.1 605.0 265.3 607.1 261.0 609.3 C256.7 611.5 252.4 614.0 250.2 618.0 C248.0 622.0 247.7 626.3 248.0 633.2 C248.3 640.1 251.6 651.3 252.3 659.2 C253.0 667.1 253.0 673.6 252.3 680.8 C251.6 688.0 249.4 695.3 248.0 702.5 C246.6 709.7 244.8 718.0 243.7 724.2 C242.6 730.5 242.1 735.7 241.5 740.0 C240.9 744.3 240.8 742.8 240.0 750.0 C239.2 757.2 237.9 774.3 237.0 783.0 C236.1 791.7 235.9 796.6 234.3 802.0 C232.8 807.4 232.5 812.9 227.7 815.5 C222.9 818.1 216.6 817.3 205.5 817.7 C194.4 818.1 173.6 817.3 161.0 817.7 C148.4 818.1 138.9 821.9 130.0 820.0 C121.1 818.1 112.9 811.8 107.7 806.6 C102.5 801.4 99.7 797.7 98.9 788.8 C98.1 779.9 100.9 761.1 103.0 753.0 C105.1 744.9 110.1 745.0 111.5 740.0 C112.9 735.0 114.0 725.6 111.5 723.1 C109.0 720.6 102.4 724.4 96.3 725.3 C90.2 726.2 81.9 728.7 74.7 728.5 C67.5 728.3 68.8 725.0 53.0 724.2 L-20.0 724.0 L-20.0 672.0 Z"/>
<path fill="#e6dc32" d="M290.0 509.0 C290.0 510.5 296.2 506.2 300.0 506.0 C303.8 505.8 309.3 506.8 313.0 508.0 C316.7 509.2 318.8 511.8 322.0 513.0 C325.2 514.2 329.0 515.0 332.5 515.0 C336.0 515.0 340.8 514.3 343.0 513.0 C345.2 511.7 345.8 508.8 345.5 507.0 C345.2 505.2 343.2 503.2 341.0 502.0 C338.8 500.8 335.7 500.8 332.5 500.0 C329.3 499.2 325.2 498.3 322.0 497.5 C318.8 496.7 315.0 496.1 313.0 495.0 C311.0 493.9 312.2 490.7 310.0 491.0 C307.8 491.3 303.3 494.0 300.0 497.0 C296.7 500.0 290.0 507.5 290.0 509.0 Z"/>
<path fill="#e6dc32" d="M-20.0 793.0 L54.0 793.0 C67.8 799.0 59.2 822.3 63.0 829.0 C66.8 835.7 71.8 831.5 77.0 833.0 C82.2 834.5 85.2 835.7 94.0 838.0 C102.8 840.3 118.8 846.0 130.0 847.0 C141.2 848.0 152.2 843.3 161.0 844.0 C169.8 844.7 175.6 847.7 183.0 851.0 C190.4 854.3 198.1 859.9 205.5 864.0 C212.9 868.1 221.8 873.6 227.7 875.5 C233.6 877.4 235.8 877.0 241.0 875.5 C246.2 874.0 252.1 869.6 258.8 866.6 C265.5 863.6 275.8 861.8 281.0 857.7 C286.2 853.6 288.2 849.0 290.0 842.0 C291.8 835.0 292.8 824.4 292.0 815.5 C291.2 806.6 287.6 798.4 285.4 788.8 C283.2 779.2 279.4 765.1 278.7 757.7 C278.0 750.3 278.8 747.7 281.0 744.4 C283.2 741.1 288.3 737.0 292.0 737.8 C295.7 738.5 298.9 743.4 303.0 748.9 C307.1 754.4 308.3 762.9 316.5 771.0 C324.7 779.1 340.9 790.3 352.0 797.7 C363.1 805.1 370.4 808.1 383.0 815.5 C395.6 822.9 412.7 833.9 427.5 842.0 C442.3 850.1 457.2 855.8 472.0 864.0 C486.8 872.2 506.7 881.7 516.4 891.0 L530.0 920.0 L-20.0 920.0 L-20.0 793.0 Z"/>
<path fill="#e6af2d" d="M-20.0 826.0 L55.0 826.0 C68.3 827.5 58.8 831.0 60.0 835.0 C61.2 839.0 61.8 845.0 62.0 850.0 C62.2 855.0 61.8 860.8 61.0 865.0 C60.2 869.2 58.3 872.8 57.0 875.0 C55.7 877.2 65.8 877.5 53.0 878.0 L-20.0 878.0 L-20.0 826.0 Z"/>
<path fill="#a0e632" d="M-20.0 905.0 L63.0 902.0 L94.0 895.0 C105.2 892.4 121.8 887.5 130.0 886.5 C138.2 885.5 141.5 887.5 143.0 889.0 C144.5 890.5 143.3 893.6 139.0 895.4 C134.7 897.2 123.5 898.4 117.0 900.0 L100.0 905.0 L-20.0 905.0 Z"/>
<path fill="#f08228" d="M522.0 491.0 C522.0 492.3 521.5 493.8 520.8 495.0 C520.0 496.2 518.8 497.3 517.5 497.9 C516.2 498.6 514.5 499.0 513.0 499.0 C511.5 499.0 509.8 498.6 508.5 497.9 C507.2 497.3 506.0 496.2 505.2 495.0 C504.5 493.8 504.0 492.3 504.0 491.0 C504.0 489.7 504.5 488.2 505.2 487.0 C506.0 485.8 507.2 484.7 508.5 484.1 C509.8 483.4 511.5 483.0 513.0 483.0 C514.5 483.0 516.2 483.4 517.5 484.1 C518.8 484.7 520.0 485.8 520.8 487.0 C521.5 488.2 522.0 489.7 522.0 491.0 Z"/>
<path fill="#f08228" d="M559.0 480.0 C559.0 482.0 558.5 484.3 557.7 486.0 C556.8 487.7 555.4 489.4 554.0 490.4 C552.6 491.4 550.7 492.0 549.0 492.0 C547.3 492.0 545.4 491.4 544.0 490.4 C542.6 489.4 541.2 487.7 540.3 486.0 C539.5 484.3 539.0 482.0 539.0 480.0 C539.0 478.0 539.5 475.7 540.3 474.0 C541.2 472.3 542.6 470.6 544.0 469.6 C545.4 468.6 547.3 468.0 549.0 468.0 C550.7 468.0 552.6 468.6 554.0 469.6 C555.4 470.6 556.8 472.3 557.7 474.0 C558.5 475.7 559.0 478.0 559.0 480.0 Z"/>
<path fill="#e6dc32" d="M561.0 451.0 C561.0 452.3 560.5 453.8 559.7 455.0 C558.8 456.2 557.4 457.3 556.0 457.9 C554.6 458.6 552.7 459.0 551.0 459.0 C549.3 459.0 547.4 458.6 546.0 457.9 C544.6 457.3 543.2 456.2 542.3 455.0 C541.5 453.8 541.0 452.3 541.0 451.0 C541.0 449.7 541.5 448.2 542.3 447.0 C543.2 445.8 544.6 444.7 546.0 444.1 C547.4 443.4 549.3 443.0 551.0 443.0 C552.7 443.0 554.6 443.4 556.0 444.1 C557.4 444.7 558.8 445.8 559.7 447.0 C560.5 448.2 561.0 449.7 561.0 451.0 Z"/>
<path fill="#e6dc32" d="M541.0 462.0 C541.0 462.6 540.7 463.2 540.3 463.8 C539.8 464.3 539.0 464.7 538.2 465.0 C537.5 465.3 536.4 465.5 535.5 465.5 C534.6 465.5 533.5 465.3 532.8 465.0 C532.0 464.7 531.2 464.3 530.7 463.8 C530.3 463.2 530.0 462.6 530.0 462.0 C530.0 461.4 530.3 460.8 530.7 460.2 C531.2 459.7 532.0 459.3 532.8 459.0 C533.5 458.7 534.6 458.5 535.5 458.5 C536.4 458.5 537.5 458.7 538.2 459.0 C539.0 459.3 539.8 459.7 540.3 460.2 C540.7 460.8 541.0 461.4 541.0 462.0 Z"/>
<path fill="#f08228" d="M610.5 420.5 C610.5 421.4 610.2 422.5 609.8 423.2 C609.3 424.0 608.5 424.8 607.8 425.3 C607.0 425.7 605.9 426.0 605.0 426.0 C604.1 426.0 603.0 425.7 602.2 425.3 C601.5 424.8 600.7 424.0 600.2 423.2 C599.8 422.5 599.5 421.4 599.5 420.5 C599.5 419.6 599.8 418.5 600.2 417.8 C600.7 417.0 601.5 416.2 602.2 415.7 C603.0 415.3 604.1 415.0 605.0 415.0 C605.9 415.0 607.0 415.3 607.8 415.7 C608.5 416.2 609.3 417.0 609.8 417.8 C610.2 418.5 610.5 419.6 610.5 420.5 Z"/>
<path fill="#f08228" d="M541.0 434.5 C541.0 435.0 540.8 435.6 540.4 436.0 C540.0 436.4 539.4 436.8 538.8 437.1 C538.1 437.3 537.2 437.5 536.5 437.5 C535.8 437.5 534.9 437.3 534.2 437.1 C533.6 436.8 533.0 436.4 532.6 436.0 C532.2 435.6 532.0 435.0 532.0 434.5 C532.0 434.0 532.2 433.4 532.6 433.0 C533.0 432.6 533.6 432.2 534.2 431.9 C534.9 431.7 535.8 431.5 536.5 431.5 C537.2 431.5 538.1 431.7 538.8 431.9 C539.4 432.2 540.0 432.6 540.4 433.0 C540.8 433.4 541.0 434.0 541.0 434.5 Z"/>
<path fill="#f08228" d="M515.0 456.5 C515.0 457.2 514.8 458.1 514.5 458.8 C514.2 459.4 513.8 460.0 513.2 460.4 C512.7 460.8 512.1 461.0 511.5 461.0 C510.9 461.0 510.3 460.8 509.8 460.4 C509.2 460.0 508.8 459.4 508.5 458.8 C508.2 458.1 508.0 457.2 508.0 456.5 C508.0 455.8 508.2 454.9 508.5 454.2 C508.8 453.6 509.2 453.0 509.8 452.6 C510.3 452.2 510.9 452.0 511.5 452.0 C512.1 452.0 512.7 452.2 513.2 452.6 C513.8 453.0 514.2 453.6 514.5 454.2 C514.8 454.9 515.0 455.8 515.0 456.5 Z"/>
<path fill="#f08228" d="M470.0 575.0 C470.0 576.0 469.5 577.1 468.8 578.0 C468.0 578.9 466.8 579.7 465.5 580.2 C464.2 580.7 462.5 581.0 461.0 581.0 C459.5 581.0 457.8 580.7 456.5 580.2 C455.2 579.7 454.0 578.9 453.2 578.0 C452.5 577.1 452.0 576.0 452.0 575.0 C452.0 574.0 452.5 572.9 453.2 572.0 C454.0 571.1 455.2 570.3 456.5 569.8 C457.8 569.3 459.5 569.0 461.0 569.0 C462.5 569.0 464.2 569.3 465.5 569.8 C466.8 570.3 468.0 571.1 468.8 572.0 C469.5 572.9 470.0 574.0 470.0 575.0 Z"/>
<path fill="#f08228" d="M496.0 566.0 C496.0 566.8 495.6 567.6 494.9 568.2 C494.3 568.9 493.2 569.5 492.0 569.9 C490.8 570.3 489.3 570.5 488.0 570.5 C486.7 570.5 485.2 570.3 484.0 569.9 C482.8 569.5 481.7 568.9 481.1 568.2 C480.4 567.6 480.0 566.8 480.0 566.0 C480.0 565.2 480.4 564.4 481.1 563.8 C481.7 563.1 482.8 562.5 484.0 562.1 C485.2 561.7 486.7 561.5 488.0 561.5 C489.3 561.5 490.8 561.7 492.0 562.1 C493.2 562.5 494.3 563.1 494.9 563.8 C495.6 564.4 496.0 565.2 496.0 566.0 Z"/>
<path fill="#f08228" d="M467.0 621.0 C467.0 621.7 466.5 622.4 465.8 623.0 C465.0 623.6 463.8 624.1 462.5 624.5 C461.2 624.8 459.5 625.0 458.0 625.0 C456.5 625.0 454.8 624.8 453.5 624.5 C452.2 624.1 451.0 623.6 450.2 623.0 C449.5 622.4 449.0 621.7 449.0 621.0 C449.0 620.3 449.5 619.6 450.2 619.0 C451.0 618.4 452.2 617.9 453.5 617.5 C454.8 617.2 456.5 617.0 458.0 617.0 C459.5 617.0 461.2 617.2 462.5 617.5 C463.8 617.9 465.0 618.4 465.8 619.0 C466.5 619.6 467.0 620.3 467.0 621.0 Z"/>
<path fill="#fa3c3c" d="M150.5 740.0 C153.8 735.9 162.4 729.0 167.8 724.2 C173.2 719.4 178.3 714.1 183.0 711.2 C187.7 708.3 191.7 706.8 196.0 706.8 C200.3 706.8 205.8 709.0 209.0 711.2 C212.2 713.4 214.4 715.0 215.5 719.8 C216.6 724.6 215.8 735.8 215.5 740.0 C215.2 744.2 215.7 742.8 214.0 745.0 C212.3 747.2 210.7 751.2 205.5 753.3 C200.3 755.4 190.4 757.0 183.0 757.7 C175.6 758.4 166.9 759.2 161.0 757.7 C155.1 756.2 149.4 751.9 147.7 748.9 C145.9 745.9 147.2 744.1 150.5 740.0 Z"/>
<path fill="#fa3c3c" d="M79.0 676.5 C80.1 675.4 85.4 672.6 87.7 672.2 C90.0 671.8 91.9 673.2 93.0 674.3 C94.1 675.4 96.2 678.0 94.2 678.7 C92.2 679.4 83.7 679.1 81.2 678.7 C78.7 678.3 77.9 677.6 79.0 676.5 Z"/>
<path fill="#fa3c3c" d="M523.0 635.0 C523.0 636.0 522.5 637.1 521.8 638.0 C521.0 638.9 519.8 639.7 518.5 640.2 C517.2 640.7 515.5 641.0 514.0 641.0 C512.5 641.0 510.8 640.7 509.5 640.2 C508.2 639.7 507.0 638.9 506.2 638.0 C505.5 637.1 505.0 636.0 505.0 635.0 C505.0 634.0 505.5 632.9 506.2 632.0 C507.0 631.1 508.2 630.3 509.5 629.8 C510.8 629.3 512.5 629.0 514.0 629.0 C515.5 629.0 517.2 629.3 518.5 629.8 C519.8 630.3 521.0 631.1 521.8 632.0 C522.5 632.9 523.0 634.0 523.0 635.0 Z"/>
<path fill="#fa3c3c" d="M369.5 589.5 C369.5 590.0 369.2 590.6 368.8 591.0 C368.3 591.4 367.5 591.8 366.8 592.1 C366.0 592.3 364.9 592.5 364.0 592.5 C363.1 592.5 362.0 592.3 361.2 592.1 C360.5 591.8 359.7 591.4 359.2 591.0 C358.8 590.6 358.5 590.0 358.5 589.5 C358.5 589.0 358.8 588.4 359.2 588.0 C359.7 587.6 360.5 587.2 361.2 586.9 C362.0 586.7 363.1 586.5 364.0 586.5 C364.9 586.5 366.0 586.7 366.8 586.9 C367.5 587.2 368.3 587.6 368.8 588.0 C369.2 588.4 369.5 589.0 369.5 589.5 Z"/>
<path fill="#fa3c3c" d="M334.7 609.3 C336.1 608.2 340.4 611.9 343.3 611.5 C346.2 611.1 348.4 607.6 352.0 607.2 C355.6 606.8 361.0 608.9 365.0 609.3 C369.0 609.6 371.5 608.6 375.8 609.3 C380.1 610.0 387.4 612.2 391.0 613.7 C394.6 615.2 397.1 616.2 397.5 618.0 C397.9 619.8 395.7 622.7 393.2 624.5 C390.7 626.3 385.6 627.3 382.3 628.8 C379.1 630.2 376.2 631.0 373.7 633.2 C371.2 635.4 369.4 641.1 367.2 641.8 C365.0 642.5 362.9 639.3 360.7 637.5 C358.5 635.7 357.1 632.8 354.2 631.0 C351.3 629.2 346.9 627.4 343.3 626.7 C339.7 626.0 333.9 628.2 332.5 626.7 C331.1 625.2 334.3 620.9 334.7 618.0 C335.1 615.1 333.3 610.4 334.7 609.3 Z"/>
<path fill="#fa3c3c" d="M417.0 626.0 C417.8 624.5 422.5 624.3 425.0 625.0 C427.5 625.7 431.2 628.3 432.0 630.0 C432.8 631.7 432.0 634.3 430.0 635.0 C428.0 635.7 422.2 635.5 420.0 634.0 C417.8 632.5 416.2 627.5 417.0 626.0 Z"/>
<path fill="#fa3c3c" d="M386.7 662.0 C386.7 659.5 388.4 656.2 390.0 655.0 C391.6 653.8 394.3 654.0 396.0 655.0 C397.7 656.0 399.8 658.7 400.0 661.0 C400.2 663.3 398.7 667.5 397.0 669.0 C395.3 670.5 391.7 671.2 390.0 670.0 C388.3 668.8 386.7 664.5 386.7 662.0 Z"/>
<path fill="#fa3c3c" d="M780.0 445.7 C788.8 446.0 787.6 448.2 793.0 446.8 C798.4 445.4 807.5 439.0 812.5 437.0 C817.5 435.0 819.7 434.8 823.3 434.8 C826.9 434.8 830.6 435.6 834.2 437.0 C837.8 438.4 841.0 441.0 845.0 443.5 C849.0 446.0 853.3 449.3 858.0 452.2 C862.7 455.1 868.9 459.7 873.2 460.8 C877.5 461.9 881.8 461.2 884.0 458.7 C886.2 456.2 886.2 452.2 886.2 445.7 C886.2 439.2 883.3 425.5 884.0 419.7 C884.7 413.9 887.6 415.0 890.5 411.0 C893.4 407.0 897.3 400.9 901.3 395.8 C905.3 390.8 909.2 385.8 914.3 380.7 C919.4 375.6 925.9 369.3 931.7 365.5 C937.5 361.7 943.6 359.3 949.0 357.9 C954.4 356.4 957.7 356.4 964.2 356.8 C970.7 357.2 980.8 357.7 988.0 360.4 C995.2 363.1 1002.1 368.1 1007.7 373.0 C1013.3 377.9 1018.5 383.2 1021.8 389.8 C1025.1 396.4 1025.5 404.4 1027.4 412.3 C1029.3 420.2 1030.2 430.5 1033.0 437.5 C1035.8 444.5 1038.6 449.7 1044.2 454.4 C1049.8 459.1 1060.6 462.8 1066.7 465.6 C1072.8 468.4 1076.5 469.6 1080.7 471.2 C1084.9 472.8 1088.2 475.9 1092.0 475.4 C1095.8 474.9 1099.6 471.0 1103.2 468.4 C1106.8 465.8 1107.7 461.4 1113.8 460.0 L1140.0 460.0 L1140.0 726.7 L1110.5 731.2 C1102.6 733.4 1096.5 736.3 1092.7 740.0 C1089.0 743.7 1088.0 747.5 1088.0 753.5 C1088.0 759.5 1090.4 767.6 1092.7 775.8 C1095.0 784.0 1101.6 793.6 1101.6 802.5 C1101.6 811.4 1097.9 824.1 1092.7 829.3 C1087.5 834.5 1081.6 831.5 1070.4 833.7 C1059.2 835.9 1040.7 839.7 1025.8 842.7 C1010.9 845.7 995.9 849.4 981.0 851.6 C966.1 853.8 951.5 856.0 936.7 856.0 C921.9 856.0 906.9 853.8 892.0 851.6 C877.1 849.4 862.3 846.5 847.5 842.7 C832.7 838.9 817.1 833.5 803.0 829.0 C788.9 824.5 770.3 822.7 762.8 816.0 C755.3 809.3 764.7 793.5 758.0 789.0 C751.3 784.5 733.0 789.7 722.7 789.0 C712.4 788.3 700.5 788.4 696.0 784.7 C691.5 781.0 699.0 773.7 696.0 767.0 C693.0 760.3 680.2 755.8 678.0 744.6 C675.8 733.4 685.5 709.1 682.5 700.0 C679.5 690.9 667.1 695.0 660.0 690.0 C652.9 685.0 646.7 678.3 640.0 670.0 C633.3 661.7 625.0 651.7 620.0 640.0 C615.0 628.3 610.8 613.3 610.0 600.0 C609.2 586.7 612.5 573.3 615.0 560.0 C617.5 546.7 620.8 533.3 625.0 520.0 C629.2 506.7 634.2 490.0 640.0 480.0 C645.8 470.0 650.0 465.0 660.0 460.0 C670.0 455.0 686.7 452.5 700.0 450.0 C713.3 447.5 726.7 445.7 740.0 445.0 C753.3 444.3 771.2 445.4 780.0 445.7 Z"/>
<path fill="#fa3c3c" d="M1088.0 870.0 C1090.0 861.0 1091.3 867.7 1100.0 866.0 L1140.0 860.0 L1140.0 920.0 L1088.0 920.0 L1088.0 870.0 Z"/>
<path fill="#fa3c3c" d="M547.7 680.0 C544.4 682.9 547.6 686.0 550.0 689.6 C552.4 693.2 556.0 697.6 562.0 701.6 C568.0 705.6 578.4 710.5 586.0 713.5 C593.6 716.5 600.9 717.5 607.5 719.5 C614.1 721.5 622.5 726.9 625.5 725.5 C628.5 724.1 627.3 715.0 625.5 711.0 C623.7 707.0 619.7 705.2 614.7 701.6 C609.7 698.0 600.0 693.2 595.6 689.6 C591.2 686.0 592.7 682.9 588.4 680.0 C584.1 677.1 576.8 672.0 570.0 672.0 C563.2 672.0 551.0 677.1 547.7 680.0 Z"/>
<path fill="#fa3c3c" d="M554.7 507.6 C555.2 504.8 556.8 504.1 559.3 503.1 C561.8 502.1 566.3 502.8 569.8 501.5 C573.3 500.2 577.4 497.2 580.4 495.5 C583.4 493.8 585.5 492.2 588.0 491.0 C590.5 489.8 593.5 489.3 595.5 488.0 C597.5 486.7 599.2 485.2 600.0 483.4 C600.8 481.6 598.7 478.6 600.0 477.4 C601.3 476.1 604.8 475.9 607.6 475.9 C610.4 475.9 614.8 476.1 616.6 477.4 C618.4 478.6 616.7 481.9 618.2 483.4 C619.7 484.9 623.5 485.1 625.7 486.4 C628.0 487.7 629.9 489.0 631.7 491.0 C633.5 493.0 634.5 496.0 636.3 498.5 C638.1 501.0 641.3 503.6 642.3 506.1 C643.3 508.6 643.0 510.8 642.3 513.6 C641.5 516.4 639.8 519.7 637.8 522.7 C635.8 525.7 632.7 528.9 630.2 531.7 C627.7 534.5 625.5 537.8 622.7 539.3 C619.9 540.8 616.6 541.3 613.6 540.8 C610.6 540.3 607.6 537.3 604.6 536.3 C601.6 535.3 598.3 534.3 595.5 534.8 C592.7 535.3 591.0 538.5 588.0 539.3 C585.0 540.0 580.7 540.0 577.4 539.3 C574.1 538.5 571.1 536.6 568.3 534.8 C565.5 533.0 562.8 531.2 560.8 528.7 C558.8 526.2 557.2 523.2 556.2 519.7 C555.2 516.2 554.2 510.4 554.7 507.6 Z"/>
<path fill="#f08228" d="M578.9 510.6 C579.6 508.3 582.1 506.9 584.9 506.1 C587.7 505.4 592.2 505.4 595.5 506.1 C598.8 506.9 602.3 508.6 604.6 510.6 C606.9 512.6 608.6 515.7 609.1 518.2 C609.6 520.7 609.4 524.0 607.6 525.7 C605.8 527.5 601.8 528.7 598.5 528.7 C595.2 528.7 591.0 527.2 588.0 525.7 C585.0 524.2 581.9 522.2 580.4 519.7 C578.9 517.2 578.1 512.9 578.9 510.6 Z"/>
<path fill="#fa3c3c" d="M641.0 452.0 C645.0 443.7 653.5 447.5 660.0 448.0 C666.5 448.5 673.3 453.3 680.0 455.0 C686.7 456.7 690.0 459.5 700.0 458.0 C710.0 456.5 725.0 448.8 740.0 446.0 C755.0 443.2 771.7 441.2 790.0 441.0 C808.3 440.8 835.0 441.8 850.0 445.0 C865.0 448.2 870.8 455.8 880.0 460.0 C889.2 464.2 900.0 460.0 905.0 470.0 C910.0 480.0 912.5 501.7 910.0 520.0 C907.5 538.3 898.3 563.3 890.0 580.0 C881.7 596.7 870.0 610.0 860.0 620.0 C850.0 630.0 840.0 635.0 830.0 640.0 C820.0 645.0 807.3 647.3 800.0 650.0 C792.7 652.7 789.2 653.5 786.0 656.0 C782.8 658.5 783.7 664.5 781.0 665.0 C778.3 665.5 773.8 658.5 770.0 659.0 C766.2 659.5 761.3 664.8 758.0 668.0 C754.7 671.2 751.8 674.3 750.0 678.0 C748.2 681.7 750.3 686.3 747.0 690.0 C743.7 693.7 737.8 698.3 730.0 700.0 C722.2 701.7 708.3 701.7 700.0 700.0 C691.7 698.3 686.7 693.3 680.0 690.0 C673.3 686.7 666.7 682.5 660.0 680.0 C653.3 677.5 645.0 678.3 640.0 675.0 C635.0 671.7 630.7 664.7 630.0 660.0 C629.3 655.3 634.0 652.0 636.0 647.0 C638.0 642.0 641.3 637.8 642.0 630.0 C642.7 622.2 641.0 608.3 640.0 600.0 C639.0 591.7 636.8 586.7 636.0 580.0 C635.2 573.3 634.0 566.7 635.0 560.0 C636.0 553.3 640.8 546.7 642.0 540.0 C643.2 533.3 642.0 525.7 642.0 520.0 C642.0 514.3 643.0 509.7 642.0 506.0 C641.0 502.3 636.2 507.0 636.0 498.0 C635.8 489.0 637.0 460.3 641.0 452.0 Z"/>
<path fill="#fa3c3c" d="M529.0 606.0 C531.3 602.5 535.8 604.5 541.0 604.0 C546.2 603.5 553.5 602.7 560.0 603.0 C566.5 603.3 573.3 604.5 580.0 606.0 C586.7 607.5 593.3 609.7 600.0 612.0 C606.7 614.3 614.2 617.0 620.0 620.0 C625.8 623.0 632.3 625.5 635.0 630.0 C637.7 634.5 638.5 644.0 636.0 647.0 C633.5 650.0 626.0 648.3 620.0 648.0 C614.0 647.7 606.7 645.5 600.0 645.0 C593.3 644.5 586.7 645.0 580.0 645.0 C573.3 645.0 566.7 645.0 560.0 645.0 C553.3 645.0 545.0 645.8 540.0 645.0 C535.0 644.2 532.2 643.3 530.0 640.0 C527.8 636.7 527.2 630.7 527.0 625.0 C526.8 619.3 526.7 609.5 529.0 606.0 Z"/>
<path fill="#fa3c3c" d="M532.0 565.0 C533.7 561.0 536.2 558.0 540.0 556.0 C543.8 554.0 550.0 553.2 555.0 553.0 C560.0 552.8 566.7 553.0 570.0 555.0 C573.3 557.0 575.3 561.7 575.0 565.0 C574.7 568.3 569.8 570.8 568.0 575.0 C566.2 579.2 565.3 585.3 564.0 590.0 C562.7 594.7 563.2 600.8 560.0 603.0 C556.8 605.2 549.2 604.3 545.0 603.0 C540.8 601.7 537.5 598.8 535.0 595.0 C532.5 591.2 530.5 585.0 530.0 580.0 C529.5 575.0 530.3 569.0 532.0 565.0 Z"/>
<path fill="#fa3c3c" d="M607.0 552.0 C609.3 548.7 615.7 549.5 620.0 550.0 C624.3 550.5 630.3 551.7 633.0 555.0 C635.7 558.3 635.8 564.8 636.0 570.0 C636.2 575.2 635.8 582.7 634.0 586.0 C632.2 589.3 628.7 590.2 625.0 590.0 C621.3 589.8 615.2 588.3 612.0 585.0 C608.8 581.7 606.8 575.5 606.0 570.0 C605.2 564.5 604.7 555.3 607.0 552.0 Z"/>
<path fill="#fa3c3c" d="M542.6 671.0 C546.3 668.8 552.9 667.5 560.0 667.0 C567.1 666.5 579.1 667.2 585.0 668.0 C590.9 668.8 593.0 669.7 595.5 672.0 C598.0 674.3 600.9 679.0 600.0 682.0 C599.1 685.0 596.7 688.7 590.0 690.0 C583.3 691.3 568.0 690.0 560.0 690.0 C552.0 690.0 545.7 691.7 542.0 690.0 C538.3 688.3 537.9 683.2 538.0 680.0 C538.1 676.8 538.9 673.2 542.6 671.0 Z"/>
<path fill="#f08228" d="M690.0 436.0 C697.2 429.7 726.3 430.3 735.0 432.0 C743.7 433.7 740.3 441.3 742.0 446.0 C743.7 450.7 745.3 455.2 745.0 460.0 C744.7 464.8 742.5 470.3 740.0 475.0 C737.5 479.7 734.2 485.5 730.0 488.0 C725.8 490.5 720.0 490.5 715.0 490.0 C710.0 489.5 703.8 488.3 700.0 485.0 C696.2 481.7 693.7 478.2 692.0 470.0 C690.3 461.8 682.8 442.3 690.0 436.0 Z"/>
<path fill="#f08228" d="M736.0 514.0 C736.3 512.0 739.7 507.7 742.0 505.0 C744.3 502.3 747.7 499.5 750.0 498.0 C752.3 496.5 753.5 496.0 756.0 496.0 C758.5 496.0 762.2 496.5 765.0 498.0 C767.8 499.5 771.8 502.5 773.0 505.0 C774.2 507.5 774.2 511.3 772.0 513.0 C769.8 514.7 764.0 515.2 760.0 515.0 C756.0 514.8 751.3 511.7 748.0 512.0 C744.7 512.3 742.0 516.7 740.0 517.0 C738.0 517.3 735.7 516.0 736.0 514.0 Z"/>
<path fill="#f08228" d="M747.0 535.0 C748.7 532.0 755.3 531.2 760.0 532.0 C764.7 532.8 770.0 537.0 775.0 540.0 C780.0 543.0 784.5 548.0 790.0 550.0 C795.5 552.0 804.7 550.0 808.0 552.0 C811.3 554.0 811.3 558.8 810.0 562.0 C808.7 565.2 804.2 569.7 800.0 571.0 C795.8 572.3 790.0 570.8 785.0 570.0 C780.0 569.2 774.2 567.7 770.0 566.0 C765.8 564.3 763.3 562.7 760.0 560.0 C756.7 557.3 752.2 554.2 750.0 550.0 C747.8 545.8 745.3 538.0 747.0 535.0 Z"/>
<path fill="#f00082" d="M938.2 398.0 C940.0 394.4 941.5 387.7 944.7 385.0 C948.0 382.3 952.7 382.2 957.7 381.8 C962.8 381.4 970.0 381.6 975.0 382.8 C980.0 384.1 984.0 387.1 988.0 389.3 C992.0 391.5 996.0 393.9 998.8 395.8 C1001.6 397.8 1003.0 396.9 1005.0 401.0 C1007.0 405.1 1008.7 412.7 1010.5 420.7 C1012.3 428.7 1013.6 441.3 1016.0 448.8 C1018.4 456.3 1020.8 460.9 1024.6 465.6 C1028.4 470.3 1033.5 472.6 1038.6 476.8 C1043.7 481.0 1050.2 485.3 1055.4 490.9 C1060.6 496.5 1068.6 505.8 1069.5 510.5 C1070.4 515.2 1062.4 515.7 1061.0 519.0 C1059.6 522.3 1059.1 527.4 1061.0 530.2 C1062.9 533.0 1066.7 534.4 1072.3 535.8 C1077.9 537.2 1087.8 537.2 1094.7 538.6 C1101.6 540.0 1106.2 543.3 1113.8 544.2 L1140.0 544.0 L1140.0 687.0 L1105.0 690.0 C1097.5 690.0 1098.8 687.0 1095.0 687.0 C1091.2 687.0 1087.0 687.3 1082.0 690.0 C1077.0 692.7 1070.7 697.7 1065.0 703.0 C1059.3 708.3 1053.8 715.1 1048.0 722.0 C1042.2 728.9 1034.4 735.6 1030.0 744.6 C1025.6 753.6 1025.8 766.6 1021.4 775.8 C1017.0 785.0 1011.7 796.3 1003.5 800.0 C995.3 803.7 979.4 800.5 972.0 798.0 C964.6 795.5 964.9 789.2 959.0 784.7 C953.1 780.2 947.9 775.5 936.7 771.0 C925.5 766.5 906.9 760.2 892.0 758.0 C877.1 755.8 862.3 758.0 847.5 758.0 C832.7 758.0 817.9 759.5 803.0 758.0 C788.1 756.5 772.9 752.7 758.0 749.0 C743.1 745.3 721.9 741.7 713.7 735.7 C705.5 729.7 707.1 716.8 709.0 713.0 C710.9 709.2 719.0 713.0 725.0 713.0 C731.0 713.0 741.3 715.7 745.0 713.0 C748.7 710.3 745.8 702.0 747.0 697.0 C748.2 692.0 749.0 687.0 752.0 683.0 C755.0 679.0 760.0 676.3 765.0 673.0 C770.0 669.7 778.7 666.8 782.0 663.0 C785.3 659.2 782.0 653.8 785.0 650.0 C788.0 646.2 792.5 646.7 800.0 640.0 C807.5 633.3 820.0 623.3 830.0 610.0 C840.0 596.7 851.7 575.0 860.0 560.0 C868.3 545.0 872.4 535.5 880.0 520.0 C887.6 504.6 900.7 478.2 905.7 467.3 C910.7 456.4 908.9 457.9 910.0 454.3 C911.1 450.7 911.5 449.3 912.2 445.7 C912.9 442.1 913.2 436.3 914.3 432.7 C915.4 429.1 916.5 426.9 918.7 424.0 C920.9 421.1 924.8 418.2 927.3 415.3 C929.8 412.4 932.0 409.6 933.8 406.7 C935.6 403.8 936.4 401.6 938.2 398.0 Z"/>
<path fill="#f00082" d="M641.8 521.3 C642.9 517.3 648.0 515.9 652.7 514.8 C657.4 513.7 665.3 515.1 670.0 514.8 C674.7 514.4 677.2 512.0 680.8 512.7 C684.4 513.4 688.5 516.3 691.7 519.2 C695.0 522.1 696.7 527.5 700.3 530.0 C703.9 532.5 710.1 531.4 713.4 534.3 C716.6 537.2 718.7 542.6 719.8 547.3 C720.9 552.0 720.9 558.2 719.8 562.5 C718.7 566.8 715.9 570.4 713.4 573.3 C710.9 576.2 708.3 578.7 704.7 579.8 C701.1 580.9 695.7 581.6 691.7 579.8 C687.7 578.0 684.4 570.1 680.8 569.0 C677.2 567.9 673.2 571.8 670.0 573.3 C666.8 574.8 664.2 577.7 661.3 577.7 C658.4 577.7 655.2 575.8 652.7 573.3 C650.2 570.8 647.7 566.1 646.2 562.5 C644.8 558.9 644.0 555.7 644.0 551.7 C644.0 547.7 646.6 543.8 646.2 538.7 C645.8 533.6 640.7 525.3 641.8 521.3 Z"/>
<path fill="#f00082" d="M690.0 487.0 C692.2 484.7 700.5 487.5 705.0 488.0 C709.5 488.5 713.2 488.5 717.0 490.0 C720.8 491.5 725.0 493.7 728.0 497.0 C731.0 500.3 734.2 505.3 735.0 510.0 C735.8 514.7 734.7 521.7 733.0 525.0 C731.3 528.3 728.0 530.8 725.0 530.0 C722.0 529.2 718.3 524.2 715.0 520.0 C711.7 515.8 708.8 508.0 705.0 505.0 C701.2 502.0 694.5 505.0 692.0 502.0 C689.5 499.0 687.8 489.3 690.0 487.0 Z"/>
<path fill="#f00082" d="M747.0 452.0 C748.7 449.8 755.5 449.5 760.0 450.0 C764.5 450.5 769.0 453.7 774.0 455.0 C779.0 456.3 785.7 456.3 790.0 458.0 C794.3 459.7 798.7 461.3 800.0 465.0 C801.3 468.7 800.5 477.0 798.0 480.0 C795.5 483.0 789.3 483.7 785.0 483.0 C780.7 482.3 776.2 478.2 772.0 476.0 C767.8 473.8 763.7 472.2 760.0 470.0 C756.3 467.8 752.2 466.0 750.0 463.0 C747.8 460.0 745.3 454.2 747.0 452.0 Z"/>
<path fill="#f00082" d="M726.0 535.0 C728.2 529.2 731.3 537.8 735.0 540.0 C738.7 542.2 744.3 544.7 748.0 548.0 C751.7 551.3 755.8 554.7 757.0 560.0 C758.2 565.3 756.5 574.2 755.0 580.0 C753.5 585.8 750.8 592.0 748.0 595.0 C745.2 598.0 741.3 598.8 738.0 598.0 C734.7 597.2 730.7 593.8 728.0 590.0 C725.3 586.2 722.3 584.2 722.0 575.0 C721.7 565.8 723.8 540.8 726.0 535.0 Z"/>
<path fill="#f00082" d="M645.0 552.0 C649.0 549.8 660.8 551.3 670.0 552.0 C679.2 552.7 695.0 551.3 700.0 556.0 C705.0 560.7 701.7 574.7 700.0 580.0 C698.3 585.3 695.0 587.2 690.0 588.0 C685.0 588.8 675.8 586.3 670.0 585.0 C664.2 583.7 659.0 583.3 655.0 580.0 C651.0 576.7 647.7 569.7 646.0 565.0 C644.3 560.3 641.0 554.2 645.0 552.0 Z"/>
<path fill="#f00082" d="M675.0 592.0 C678.7 589.5 693.8 588.7 700.0 590.0 C706.2 591.3 711.2 596.2 712.0 600.0 C712.8 603.8 708.7 611.0 705.0 613.0 C701.3 615.0 694.5 613.3 690.0 612.0 C685.5 610.7 680.5 608.3 678.0 605.0 C675.5 601.7 671.3 594.5 675.0 592.0 Z"/>
<path fill="#f00082" d="M671.0 635.0 C673.5 631.7 684.3 631.2 690.0 632.0 C695.7 632.8 703.0 636.2 705.0 640.0 C707.0 643.8 704.8 651.8 702.0 655.0 C699.2 658.2 692.5 659.5 688.0 659.0 C683.5 658.5 677.8 656.0 675.0 652.0 C672.2 648.0 668.5 638.3 671.0 635.0 Z"/>
<path fill="#f00082" d="M852.0 471.0 C853.0 468.5 861.7 472.7 866.0 475.0 C870.3 477.3 875.5 481.3 878.0 485.0 C880.5 488.7 882.0 494.8 881.0 497.0 C880.0 499.2 875.5 499.2 872.0 498.0 C868.5 496.8 863.3 494.5 860.0 490.0 C856.7 485.5 851.0 473.5 852.0 471.0 Z"/>
<path fill="#f00082" d="M878.0 506.0 C880.5 504.2 890.0 505.8 895.0 507.0 C900.0 508.2 906.2 510.2 908.0 513.0 C909.8 515.8 909.0 522.0 906.0 524.0 C903.0 526.0 894.3 526.0 890.0 525.0 C885.7 524.0 882.0 521.2 880.0 518.0 C878.0 514.8 875.5 507.8 878.0 506.0 Z"/>
<path fill="#f00082" d="M800.0 575.0 C805.8 570.0 820.0 565.0 830.0 560.0 C840.0 555.0 851.3 548.2 860.0 545.0 C868.7 541.8 877.8 538.5 882.0 541.0 C886.2 543.5 887.0 550.2 885.0 560.0 C883.0 569.8 877.5 590.0 870.0 600.0 C862.5 610.0 850.0 615.0 840.0 620.0 C830.0 625.0 817.5 630.8 810.0 630.0 C802.5 629.2 797.5 621.7 795.0 615.0 C792.5 608.3 794.2 596.7 795.0 590.0 C795.8 583.3 794.2 580.0 800.0 575.0 Z"/>
<path fill="#f00082" d="M840.0 535.0 C843.0 527.0 853.0 532.2 858.0 532.0 C863.0 531.8 866.0 532.5 870.0 534.0 C874.0 535.5 880.3 533.3 882.0 541.0 C883.7 548.7 883.7 571.8 880.0 580.0 C876.3 588.2 866.7 590.0 860.0 590.0 C853.3 590.0 843.3 589.2 840.0 580.0 C836.7 570.8 837.0 543.0 840.0 535.0 Z"/>
<path fill="#f00082" d="M853.0 526.0 C854.7 521.8 865.5 519.3 870.0 520.0 C874.5 520.7 879.2 525.8 880.0 530.0 C880.8 534.2 878.3 542.5 875.0 545.0 C871.7 547.5 863.7 548.2 860.0 545.0 C856.3 541.8 851.3 530.2 853.0 526.0 Z"/>
<path fill="#f00082" d="M760.0 560.0 C765.3 555.8 783.3 568.3 790.0 575.0 C796.7 581.7 799.2 592.5 800.0 600.0 C800.8 607.5 797.3 613.3 795.0 620.0 C792.7 626.7 790.2 640.0 786.0 640.0 C781.8 640.0 774.7 626.7 770.0 620.0 C765.3 613.3 759.7 610.0 758.0 600.0 C756.3 590.0 754.7 564.2 760.0 560.0 Z"/>
<path fill="#f00082" d="M695.0 592.0 C695.8 587.0 704.2 580.3 710.0 580.0 C715.8 579.7 724.7 586.7 730.0 590.0 C735.3 593.3 737.3 597.5 742.0 600.0 C746.7 602.5 753.3 603.0 758.0 605.0 C762.7 607.0 766.7 609.8 770.0 612.0 C773.3 614.2 775.7 615.0 778.0 618.0 C780.3 621.0 782.8 626.0 784.0 630.0 C785.2 634.0 787.3 638.7 785.0 642.0 C782.7 645.3 775.8 652.8 770.0 650.0 C764.2 647.2 755.8 630.8 750.0 625.0 C744.2 619.2 740.0 617.2 735.0 615.0 C730.0 612.8 725.0 612.8 720.0 612.0 C715.0 611.2 709.2 613.3 705.0 610.0 C700.8 606.7 694.2 597.0 695.0 592.0 Z"/>
<path fill="#f00082" d="M541.1 616.4 C541.6 613.6 543.2 610.6 547.2 608.9 C551.2 607.1 559.8 605.6 565.3 605.9 C570.8 606.1 576.6 608.1 580.4 610.4 C584.2 612.7 585.5 616.7 588.0 619.5 C590.5 622.3 592.2 625.5 595.5 627.0 C598.8 628.5 605.1 627.2 607.6 628.5 C610.1 629.8 611.6 633.1 610.6 634.6 C609.6 636.1 605.3 637.4 601.5 637.6 C597.7 637.9 592.0 635.6 588.0 636.1 C584.0 636.6 581.2 640.4 577.4 640.6 C573.6 640.9 569.3 638.6 565.3 637.6 C561.3 636.6 556.7 636.6 553.2 634.6 C549.7 632.6 546.2 628.5 544.2 625.5 C542.2 622.5 540.6 619.2 541.1 616.4 Z"/>
<path fill="#f00082" d="M562.0 568.0 C562.5 566.2 566.0 565.5 568.0 566.0 C570.0 566.5 573.3 569.2 574.0 571.0 C574.7 572.8 573.5 576.0 572.0 577.0 C570.5 578.0 566.7 578.5 565.0 577.0 C563.3 575.5 561.5 569.8 562.0 568.0 Z"/>
<path fill="#f00082" d="M639.0 513.0 C639.0 513.6 638.8 514.3 638.4 514.8 C638.1 515.2 637.5 515.7 636.9 515.9 C636.4 516.0 635.6 516.0 635.1 515.9 C634.5 515.7 633.9 515.2 633.6 514.8 C633.2 514.3 633.0 513.6 633.0 513.0 C633.0 512.4 633.2 511.7 633.6 511.2 C633.9 510.8 634.5 510.3 635.1 510.1 C635.6 510.0 636.4 510.0 636.9 510.1 C637.5 510.3 638.1 510.8 638.4 511.2 C638.8 511.7 639.0 512.4 639.0 513.0 Z"/>
<path fill="#f00082" d="M591.0 531.0 C591.0 531.8 590.7 532.7 590.2 533.4 C589.8 534.0 589.0 534.6 588.2 534.8 C587.5 535.0 586.5 535.0 585.8 534.8 C585.0 534.6 584.2 534.0 583.8 533.4 C583.3 532.7 583.0 531.8 583.0 531.0 C583.0 530.2 583.3 529.3 583.8 528.6 C584.2 528.0 585.0 527.4 585.8 527.2 C586.5 527.0 587.5 527.0 588.2 527.2 C589.0 527.4 589.8 528.0 590.2 528.6 C590.7 529.3 591.0 530.2 591.0 531.0 Z"/>
<path fill="#f00082" d="M566.0 516.0 C566.0 516.6 565.8 517.3 565.4 517.8 C565.1 518.2 564.5 518.7 563.9 518.9 C563.4 519.0 562.6 519.0 562.1 518.9 C561.5 518.7 560.9 518.2 560.6 517.8 C560.2 517.3 560.0 516.6 560.0 516.0 C560.0 515.4 560.2 514.7 560.6 514.2 C560.9 513.8 561.5 513.3 562.1 513.1 C562.6 513.0 563.4 513.0 563.9 513.1 C564.5 513.3 565.1 513.8 565.4 514.2 C565.8 514.7 566.0 515.4 566.0 516.0 Z"/>
<path fill="#f00082" d="M615.0 507.0 C615.0 507.8 614.7 508.7 614.2 509.4 C613.8 510.0 613.0 510.6 612.2 510.8 C611.5 511.0 610.5 511.0 609.8 510.8 C609.0 510.6 608.2 510.0 607.8 509.4 C607.3 508.7 607.0 507.8 607.0 507.0 C607.0 506.2 607.3 505.3 607.8 504.6 C608.2 504.0 609.0 503.4 609.8 503.2 C610.5 503.0 611.5 503.0 612.2 503.2 C613.0 503.4 613.8 504.0 614.2 504.6 C614.7 505.3 615.0 506.2 615.0 507.0 Z"/>
<path fill="#fa3c3c" d="M1052.0 567.0 C1052.0 568.7 1051.4 570.6 1050.4 572.0 C1049.4 573.4 1047.7 574.8 1046.0 575.7 C1044.3 576.5 1042.0 577.0 1040.0 577.0 C1038.0 577.0 1035.7 576.5 1034.0 575.7 C1032.3 574.8 1030.6 573.4 1029.6 572.0 C1028.6 570.6 1028.0 568.7 1028.0 567.0 C1028.0 565.3 1028.6 563.4 1029.6 562.0 C1030.6 560.6 1032.3 559.2 1034.0 558.3 C1035.7 557.5 1038.0 557.0 1040.0 557.0 C1042.0 557.0 1044.3 557.5 1046.0 558.3 C1047.7 559.2 1049.4 560.6 1050.4 562.0 C1051.4 563.4 1052.0 565.3 1052.0 567.0 Z"/>
<path fill="#f08228" d="M672.0 494.0 C672.0 495.5 671.3 497.2 670.1 498.5 C669.0 499.8 667.0 501.0 665.0 501.8 C663.0 502.5 660.3 503.0 658.0 503.0 C655.7 503.0 653.0 502.5 651.0 501.8 C649.0 501.0 647.0 499.8 645.9 498.5 C644.7 497.2 644.0 495.5 644.0 494.0 C644.0 492.5 644.7 490.8 645.9 489.5 C647.0 488.2 649.0 487.0 651.0 486.2 C653.0 485.5 655.7 485.0 658.0 485.0 C660.3 485.0 663.0 485.5 665.0 486.2 C667.0 487.0 669.0 488.2 670.1 489.5 C671.3 490.8 672.0 492.5 672.0 494.0 Z"/>
<path fill="#f08228" d="M698.0 565.0 C698.0 566.8 697.5 568.9 696.8 570.5 C696.0 572.1 694.8 573.6 693.5 574.5 C692.2 575.4 690.5 576.0 689.0 576.0 C687.5 576.0 685.8 575.4 684.5 574.5 C683.2 573.6 682.0 572.1 681.2 570.5 C680.5 568.9 680.0 566.8 680.0 565.0 C680.0 563.2 680.5 561.1 681.2 559.5 C682.0 557.9 683.2 556.4 684.5 555.5 C685.8 554.6 687.5 554.0 689.0 554.0 C690.5 554.0 692.2 554.6 693.5 555.5 C694.8 556.4 696.0 557.9 696.8 559.5 C697.5 561.1 698.0 563.2 698.0 565.0 Z"/>
<path fill="#fa3c3c" d="M696.0 582.0 C696.0 582.8 695.3 583.8 694.1 584.5 C693.0 585.2 691.0 585.9 689.0 586.3 C687.0 586.7 684.3 587.0 682.0 587.0 C679.7 587.0 677.0 586.7 675.0 586.3 C673.0 585.9 671.0 585.2 669.9 584.5 C668.7 583.8 668.0 582.8 668.0 582.0 C668.0 581.2 668.7 580.2 669.9 579.5 C671.0 578.8 673.0 578.1 675.0 577.7 C677.0 577.3 679.7 577.0 682.0 577.0 C684.3 577.0 687.0 577.3 689.0 577.7 C691.0 578.1 693.0 578.8 694.1 579.5 C695.3 580.2 696.0 581.2 696.0 582.0 Z"/>
<path fill="#f00082" d="M775.0 521.0 C775.0 521.9 774.3 523.0 773.1 523.8 C772.0 524.5 770.0 525.3 768.0 525.8 C766.0 526.2 763.3 526.5 761.0 526.5 C758.7 526.5 756.0 526.2 754.0 525.8 C752.0 525.3 750.0 524.5 748.9 523.8 C747.7 523.0 747.0 521.9 747.0 521.0 C747.0 520.1 747.7 519.0 748.9 518.2 C750.0 517.5 752.0 516.7 754.0 516.2 C756.0 515.8 758.7 515.5 761.0 515.5 C763.3 515.5 766.0 515.8 768.0 516.2 C770.0 516.7 772.0 517.5 773.1 518.2 C774.3 519.0 775.0 520.1 775.0 521.0 Z"/>
<path fill="#f00082" d="M848.0 554.0 C848.0 555.3 847.1 556.8 845.7 558.0 C844.3 559.2 842.0 560.3 839.5 560.9 C837.0 561.6 833.8 562.0 831.0 562.0 C828.2 562.0 825.0 561.6 822.5 560.9 C820.0 560.3 817.7 559.2 816.3 558.0 C814.9 556.8 814.0 555.3 814.0 554.0 C814.0 552.7 814.9 551.2 816.3 550.0 C817.7 548.8 820.0 547.7 822.5 547.1 C825.0 546.4 828.2 546.0 831.0 546.0 C833.8 546.0 837.0 546.4 839.5 547.1 C842.0 547.7 844.3 548.8 845.7 550.0 C847.1 551.2 848.0 552.7 848.0 554.0 Z"/>
<path fill="#f08228" d="M738.0 645.0 C737.3 642.7 739.7 638.7 742.0 637.0 C744.3 635.3 749.3 634.5 752.0 635.0 C754.7 635.5 757.3 637.7 758.0 640.0 C758.7 642.3 758.0 647.2 756.0 649.0 C754.0 650.8 749.0 651.7 746.0 651.0 C743.0 650.3 738.7 647.3 738.0 645.0 Z"/>
<path fill="#e6af2d" d="M611.0 600.0 C612.3 597.7 616.0 596.5 620.0 596.0 C624.0 595.5 630.0 595.8 635.0 597.0 C640.0 598.2 646.5 600.5 650.0 603.0 C653.5 605.5 655.2 608.8 656.0 612.0 C656.8 615.2 656.8 619.3 655.0 622.0 C653.2 624.7 649.2 627.5 645.0 628.0 C640.8 628.5 634.5 626.3 630.0 625.0 C625.5 623.7 621.0 622.5 618.0 620.0 C615.0 617.5 613.2 613.3 612.0 610.0 C610.8 606.7 609.7 602.3 611.0 600.0 Z"/>
<path fill="#e6dc32" d="M630.0 605.0 C631.0 603.8 635.0 602.7 637.0 603.0 C639.0 603.3 641.8 605.7 642.0 607.0 C642.2 608.3 639.8 610.5 638.0 611.0 C636.2 611.5 632.3 611.0 631.0 610.0 C629.7 609.0 629.0 606.2 630.0 605.0 Z"/>
<path fill="#e6af2d" d="M602.0 551.0 C603.5 549.5 608.7 548.8 612.0 549.0 C615.3 549.2 620.7 550.2 622.0 552.0 C623.3 553.8 622.0 558.3 620.0 560.0 C618.0 561.7 612.8 562.3 610.0 562.0 C607.2 561.7 604.3 559.8 603.0 558.0 C601.7 556.2 600.5 552.5 602.0 551.0 Z"/>
<path fill="#e6af2d" d="M638.0 670.0 C639.3 668.5 644.5 667.7 648.0 669.0 C651.5 670.3 657.5 675.0 659.0 678.0 C660.5 681.0 658.8 685.7 657.0 687.0 C655.2 688.3 650.8 687.5 648.0 686.0 C645.2 684.5 641.7 680.7 640.0 678.0 C638.3 675.3 636.7 671.5 638.0 670.0 Z"/>
<path fill="#fa3c3c" d="M981.9 431.0 C981.9 432.3 981.5 433.8 980.8 435.0 C980.1 436.3 979.0 437.5 977.7 438.4 C976.3 439.4 974.7 440.2 972.9 440.7 C971.2 441.2 969.2 441.5 967.4 441.5 C965.6 441.5 963.6 441.2 961.9 440.7 C960.1 440.2 958.5 439.4 957.1 438.4 C955.8 437.5 954.7 436.3 954.0 435.0 C953.3 433.8 952.9 432.3 952.9 431.0 C952.9 429.7 953.3 428.2 954.0 427.0 C954.7 425.7 955.8 424.5 957.1 423.6 C958.5 422.6 960.1 421.8 961.9 421.3 C963.6 420.8 965.6 420.5 967.4 420.5 C969.2 420.5 971.2 420.8 972.9 421.3 C974.7 421.8 976.3 422.6 977.7 423.6 C979.0 424.5 980.1 425.7 980.8 427.0 C981.5 428.2 981.9 429.7 981.9 431.0 Z"/>
<path fill="#f08228" d="M980.5 430.9 C980.5 431.8 980.2 432.8 979.5 433.7 C978.9 434.6 978.0 435.4 976.8 436.1 C975.7 436.7 974.3 437.3 972.8 437.6 C971.3 438.0 969.6 438.2 968.0 438.2 C966.4 438.2 964.7 438.0 963.2 437.6 C961.7 437.3 960.3 436.7 959.2 436.1 C958.0 435.4 957.1 434.6 956.5 433.7 C955.8 432.8 955.5 431.8 955.5 430.9 C955.5 430.0 955.8 429.0 956.5 428.1 C957.1 427.2 958.0 426.4 959.2 425.7 C960.3 425.1 961.7 424.5 963.2 424.2 C964.7 423.8 966.4 423.6 968.0 423.6 C969.6 423.6 971.3 423.8 972.8 424.2 C974.3 424.5 975.7 425.1 976.8 425.7 C978.0 426.4 978.9 427.2 979.5 428.1 C980.2 429.0 980.5 430.0 980.5 430.9 Z"/>
<path fill="#e6af2d" d="M978.3 430.5 C978.3 431.1 978.0 431.7 977.5 432.2 C977.0 432.8 976.2 433.3 975.3 433.7 C974.4 434.1 973.2 434.4 971.9 434.7 C970.7 434.9 969.3 435.0 968.0 435.0 C966.7 435.0 965.3 434.9 964.1 434.7 C962.8 434.4 961.6 434.1 960.7 433.7 C959.8 433.3 959.0 432.8 958.5 432.2 C958.0 431.7 957.7 431.1 957.7 430.5 C957.7 429.9 958.0 429.3 958.5 428.8 C959.0 428.2 959.8 427.7 960.7 427.3 C961.6 426.9 962.8 426.6 964.1 426.3 C965.3 426.1 966.7 426.0 968.0 426.0 C969.3 426.0 970.7 426.1 971.9 426.3 C973.2 426.6 974.4 426.9 975.3 427.3 C976.2 427.7 977.0 428.2 977.5 428.8 C978.0 429.3 978.3 429.9 978.3 430.5 Z"/>
<path fill="#e6dc32" d="M975.0 430.2 C975.0 430.4 974.8 430.7 974.4 430.9 C974.1 431.1 973.5 431.3 972.8 431.5 C972.1 431.6 971.2 431.8 970.3 431.9 C969.4 432.0 968.4 432.0 967.4 432.0 C966.4 432.0 965.4 432.0 964.5 431.9 C963.6 431.8 962.7 431.6 962.0 431.5 C961.3 431.3 960.7 431.1 960.4 430.9 C960.0 430.7 959.8 430.4 959.8 430.2 C959.8 430.0 960.0 429.7 960.4 429.5 C960.7 429.3 961.3 429.1 962.0 428.9 C962.7 428.8 963.6 428.6 964.5 428.5 C965.4 428.4 966.4 428.4 967.4 428.4 C968.4 428.4 969.4 428.4 970.3 428.5 C971.2 428.6 972.1 428.8 972.8 428.9 C973.5 429.1 974.1 429.3 974.4 429.5 C974.8 429.7 975.0 430.0 975.0 430.2 Z"/>
<path fill="#00a0ff" d="M604.0 248.0 C604.7 247.3 608.0 247.7 610.0 249.0 C612.0 250.3 615.7 254.5 616.0 256.0 C616.3 257.5 613.7 258.5 612.0 258.0 C610.3 257.5 607.3 254.7 606.0 253.0 C604.7 251.3 603.3 248.7 604.0 248.0 Z"/>
<path fill="#00d28c" d="M510.0 250.0 C511.3 246.2 515.5 244.3 520.0 243.0 C524.5 241.7 532.3 241.2 537.0 242.0 C541.7 242.8 545.8 244.7 548.0 248.0 C550.2 251.3 550.8 258.0 550.0 262.0 C549.2 266.0 546.8 270.2 543.0 272.0 C539.2 273.8 532.2 274.0 527.0 273.0 C521.8 272.0 514.8 269.8 512.0 266.0 C509.2 262.2 508.7 253.8 510.0 250.0 Z"/>
<path fill="#00dc00" d="M228.5 428.2 C229.9 426.2 233.9 426.3 237.2 427.0 C240.4 427.7 244.4 430.5 248.0 432.5 C251.6 434.5 255.9 435.8 258.8 439.0 C261.7 442.2 264.9 448.8 265.3 452.0 C265.7 455.2 264.6 457.4 261.0 458.5 C257.4 459.6 248.8 459.6 243.7 458.5 C238.6 457.4 233.2 455.2 230.7 452.0 C228.2 448.8 228.9 443.0 228.5 439.0 C228.1 435.0 227.1 430.2 228.5 428.2 Z"/>
<path fill="#e6dc32" d="M265.0 385.0 C265.0 386.7 264.7 388.6 264.3 390.0 C263.9 391.4 263.2 392.8 262.5 393.7 C261.8 394.5 260.8 395.0 260.0 395.0 C259.2 395.0 258.2 394.5 257.5 393.7 C256.8 392.8 256.1 391.4 255.7 390.0 C255.3 388.6 255.0 386.7 255.0 385.0 C255.0 383.3 255.3 381.4 255.7 380.0 C256.1 378.6 256.8 377.2 257.5 376.3 C258.2 375.5 259.2 375.0 260.0 375.0 C260.8 375.0 261.8 375.5 262.5 376.3 C263.2 377.2 263.9 378.6 264.3 380.0 C264.7 381.4 265.0 383.3 265.0 385.0 Z"/>
<path fill="#e6dc32" d="M302.0 371.0 C302.0 372.3 301.5 373.8 300.8 375.0 C300.0 376.2 298.8 377.3 297.5 377.9 C296.2 378.6 294.5 379.0 293.0 379.0 C291.5 379.0 289.8 378.6 288.5 377.9 C287.2 377.3 286.0 376.2 285.2 375.0 C284.5 373.8 284.0 372.3 284.0 371.0 C284.0 369.7 284.5 368.2 285.2 367.0 C286.0 365.8 287.2 364.7 288.5 364.1 C289.8 363.4 291.5 363.0 293.0 363.0 C294.5 363.0 296.2 363.4 297.5 364.1 C298.8 364.7 300.0 365.8 300.8 367.0 C301.5 368.2 302.0 369.7 302.0 371.0 Z"/>
<path fill="#e6dc32" d="M182.0 396.0 C182.0 396.8 181.6 397.8 181.1 398.5 C180.5 399.2 179.5 399.9 178.5 400.3 C177.5 400.7 176.2 401.0 175.0 401.0 C173.8 401.0 172.5 400.7 171.5 400.3 C170.5 399.9 169.5 399.2 168.9 398.5 C168.4 397.8 168.0 396.8 168.0 396.0 C168.0 395.2 168.4 394.2 168.9 393.5 C169.5 392.8 170.5 392.1 171.5 391.7 C172.5 391.3 173.8 391.0 175.0 391.0 C176.2 391.0 177.5 391.3 178.5 391.7 C179.5 392.1 180.5 392.8 181.1 393.5 C181.6 394.2 182.0 395.2 182.0 396.0 Z"/>
<path fill="#e6dc32" d="M312.0 410.0 C312.0 410.7 311.4 411.4 310.5 412.0 C309.6 412.6 308.1 413.1 306.5 413.5 C304.9 413.8 302.8 414.0 301.0 414.0 C299.2 414.0 297.1 413.8 295.5 413.5 C293.9 413.1 292.4 412.6 291.5 412.0 C290.6 411.4 290.0 410.7 290.0 410.0 C290.0 409.3 290.6 408.6 291.5 408.0 C292.4 407.4 293.9 406.9 295.5 406.5 C297.1 406.2 299.2 406.0 301.0 406.0 C302.8 406.0 304.9 406.2 306.5 406.5 C308.1 406.9 309.6 407.4 310.5 408.0 C311.4 408.6 312.0 409.3 312.0 410.0 Z"/>
<path fill="#e6dc32" d="M282.0 371.0 C282.0 371.5 281.8 372.1 281.6 372.5 C281.3 372.9 280.9 373.3 280.5 373.6 C280.1 373.8 279.5 374.0 279.0 374.0 C278.5 374.0 277.9 373.8 277.5 373.6 C277.1 373.3 276.7 372.9 276.4 372.5 C276.2 372.1 276.0 371.5 276.0 371.0 C276.0 370.5 276.2 369.9 276.4 369.5 C276.7 369.1 277.1 368.7 277.5 368.4 C277.9 368.2 278.5 368.0 279.0 368.0 C279.5 368.0 280.1 368.2 280.5 368.4 C280.9 368.7 281.3 369.1 281.6 369.5 C281.8 369.9 282.0 370.5 282.0 371.0 Z"/>
<path fill="#00dc00" d="M206.0 396.0 C206.0 397.0 205.8 398.1 205.5 399.0 C205.1 399.9 204.6 400.7 204.0 401.2 C203.4 401.7 202.7 402.0 202.0 402.0 C201.3 402.0 200.6 401.7 200.0 401.2 C199.4 400.7 198.9 399.9 198.5 399.0 C198.2 398.1 198.0 397.0 198.0 396.0 C198.0 395.0 198.2 393.9 198.5 393.0 C198.9 392.1 199.4 391.3 200.0 390.8 C200.6 390.3 201.3 390.0 202.0 390.0 C202.7 390.0 203.4 390.3 204.0 390.8 C204.6 391.3 205.1 392.1 205.5 393.0 C205.8 393.9 206.0 395.0 206.0 396.0 Z"/>
<path fill="#00dc00" d="M155.0 333.0 C155.0 334.3 154.8 335.8 154.6 337.0 C154.3 338.2 153.9 339.3 153.5 339.9 C153.1 340.6 152.5 341.0 152.0 341.0 C151.5 341.0 150.9 340.6 150.5 339.9 C150.1 339.3 149.7 338.2 149.4 337.0 C149.2 335.8 149.0 334.3 149.0 333.0 C149.0 331.7 149.2 330.2 149.4 329.0 C149.7 327.8 150.1 326.7 150.5 326.1 C150.9 325.4 151.5 325.0 152.0 325.0 C152.5 325.0 153.1 325.4 153.5 326.1 C153.9 326.7 154.3 327.8 154.6 329.0 C154.8 330.2 155.0 331.7 155.0 333.0 Z"/>
<path fill="#00dc00" d="M184.0 321.0 C184.0 321.7 183.9 322.4 183.7 323.0 C183.6 323.6 183.3 324.1 183.0 324.5 C182.7 324.8 182.3 325.0 182.0 325.0 C181.7 325.0 181.3 324.8 181.0 324.5 C180.7 324.1 180.4 323.6 180.3 323.0 C180.1 322.4 180.0 321.7 180.0 321.0 C180.0 320.3 180.1 319.6 180.3 319.0 C180.4 318.4 180.7 317.9 181.0 317.5 C181.3 317.2 181.7 317.0 182.0 317.0 C182.3 317.0 182.7 317.2 183.0 317.5 C183.3 317.9 183.6 318.4 183.7 319.0 C183.9 319.6 184.0 320.3 184.0 321.0 Z"/>
<path fill="#a0e632" d="M80.0 386.0 C80.0 386.7 79.8 387.4 79.6 388.0 C79.3 388.6 78.9 389.1 78.5 389.5 C78.1 389.8 77.5 390.0 77.0 390.0 C76.5 390.0 75.9 389.8 75.5 389.5 C75.1 389.1 74.7 388.6 74.4 388.0 C74.2 387.4 74.0 386.7 74.0 386.0 C74.0 385.3 74.2 384.6 74.4 384.0 C74.7 383.4 75.1 382.9 75.5 382.5 C75.9 382.2 76.5 382.0 77.0 382.0 C77.5 382.0 78.1 382.2 78.5 382.5 C78.9 382.9 79.3 383.4 79.6 384.0 C79.8 384.6 80.0 385.3 80.0 386.0 Z"/>
<path fill="#a0e632" d="M268.0 325.0 C268.0 325.8 267.7 326.8 267.3 327.5 C266.9 328.2 266.2 328.9 265.5 329.3 C264.8 329.7 263.8 330.0 263.0 330.0 C262.2 330.0 261.2 329.7 260.5 329.3 C259.8 328.9 259.1 328.2 258.7 327.5 C258.3 326.8 258.0 325.8 258.0 325.0 C258.0 324.2 258.3 323.2 258.7 322.5 C259.1 321.8 259.8 321.1 260.5 320.7 C261.2 320.3 262.2 320.0 263.0 320.0 C263.8 320.0 264.8 320.3 265.5 320.7 C266.2 321.1 266.9 321.8 267.3 322.5 C267.7 323.2 268.0 324.2 268.0 325.0 Z"/>
</g>
<g clip-path="url(#mc)" fill="none" stroke="#a0a0a0" stroke-width="1.6" stroke-linejoin="round">
<path d="M655.6 732.9 L658.2 732.1 L661.6 736.4 L659.0 739.8 L653.9 742.4 L654.7 736.4 L655.6 732.9"/>
<path d="M632.5 439.2 L631.7 448.3 L635.0 458.3 L636.7 470.0 L635.0 481.7 L628.3 490.0 L631.7 496.7 L640.0 503.3 L643.3 508.3 L641.7 516.7 L638.3 523.3 L633.3 530.0 L626.7 536.7 L620.0 540.0 L615.8 543.0 L622.0 546.0 L631.7 550.0 L632.5 559.0 L631.7 569.6 L628.7 578.7 L624.2 584.7 L613.6 587.8 L604.6 589.3 L600.0 587.8 L604.6 595.3 L610.6 607.4 L613.6 613.4 L619.3 619.0 L629.7 625.9 L635.7 631.1 L633.2 638.0 L628.0 644.9 L625.4 651.8 L627.1 658.7 L629.7 665.6 L628.0 670.8"/>
<path d="M631.7 448.3 L636.7 451.7 L645.0 447.5 L651.7 451.7 L656.7 450.8 L660.0 456.7 L668.3 460.0 L678.3 457.5 L686.7 460.0 L693.3 460.0 L696.7 458.3"/>
<path d="M690.0 421.7 L700.0 430.8 L698.3 441.7 L696.7 453.3 L696.7 466.7 L700.0 471.7 L706.7 473.3 L713.3 473.3 L720.0 474.2 L726.7 473.3 L730.0 470.0 L730.0 461.7 L726.7 456.7 L730.0 453.3 L731.7 446.7"/>
<path d="M700.0 430.8 L713.3 436.7 L723.3 441.7 L731.7 446.7 L740.0 450.0 L746.7 451.7 L753.3 446.7 L756.7 450.0 L761.7 455.0 L770.0 456.7 L775.0 453.3 L776.7 445.0 L783.3 443.3 L791.7 436.7"/>
<path d="M708.3 473.3 L703.3 478.3 L695.0 483.3 L690.0 490.0 L688.3 500.0 L692.5 510.0 L698.5 517.6 L704.6 525.1 L712.1 531.1 L718.2 533.4 L724.2 531.1 L725.7 525.1 L728.7 522.1 L734.8 519.1 L740.8 516.0 L748.4 513.0 L752.9 510.0 L755.0 503.3 L753.3 496.7 L756.7 491.7 L761.7 486.7 L766.7 486.7 L773.3 490.0 L780.0 493.3 L783.3 486.7"/>
<path d="M660.0 456.7 L663.3 463.3 L661.7 475.0 L660.0 483.3 L658.3 491.7 L658.3 498.3 L653.3 500.0 L645.0 501.7 L640.0 503.3"/>
<path d="M658.3 498.3 L666.7 503.3 L673.3 508.3 L675.9 510.0 L677.4 516.0 L671.3 520.6 L663.8 519.1 L660.8 525.1 L657.8 532.7 L651.7 537.2 L644.2 541.7 L641.1 546.2 L644.2 555.3 L645.7 564.4 L650.2 568.9 L650.2 576.4 L650.2 582.5 L647.2 588.5 L647.2 594.6 L644.2 600.6 L639.6 603.6 L632.1 599.1 L623.0 603.6 L632.1 618.7 L635.1 629.3 L632.1 638.4 L629.1 645.9"/>
<path d="M675.9 510.0 L684.9 511.5 L692.5 510.0"/>
<path d="M650.2 584.0 L660.8 588.5 L672.9 593.1 L683.4 591.5 L692.5 590.0 L698.5 591.5"/>
<path d="M620.0 582.5 L629.1 584.0 L638.1 584.8 L650.2 584.0"/>
<path d="M724.2 531.1 L728.7 535.7 L725.7 540.2 L722.7 546.2 L718.2 550.8 L718.2 558.3 L719.7 564.4 L716.6 570.4 L712.1 571.9 L710.6 578.0 L707.6 582.5 L701.5 587.0 L698.5 591.5 L701.5 597.6 L707.6 600.6 L713.6 603.6 L716.6 606.6 L713.6 612.7 L707.6 615.7 L701.5 620.2 L695.5 624.8 L694.0 630.8 L689.5 632.3"/>
<path d="M716.6 606.6 L716.6 615.7 L713.6 624.8 L718.2 630.8 L722.7 636.8 L722.7 642.9"/>
<path d="M728.7 535.7 L731.7 537.2 L734.8 544.7 L737.8 552.3 L743.8 561.3 L749.9 568.9 L752.9 574.9 L754.4 582.5 L758.9 588.5 L760.4 596.1 L765.0 602.1 L771.0 606.6 L777.1 612.7 L778.6 618.7 L777.1 627.8 L775.5 635.3"/>
<path d="M754.4 582.5 L763.5 581.0 L769.5 576.4 L775.5 573.4 L780.1 570.4 L786.1 573.4 L790.6 576.4 L793.7 576.4 L799.7 573.4 L805.1 564.4 L808.1 570.4 L814.2 574.9 L815.7 576.4 L823.2 582.5 L832.3 584.0 L839.8 579.5 L847.4 578.0 L851.9 581.0 L854.9 587.0 L859.5 594.6 L862.5 596.1 L865.5 588.5 L871.5 587.0 L879.1 584.0 L883.6 587.0"/>
<path d="M771.0 522.1 L772.5 532.7 L769.5 540.2 L768.0 550.8 L769.5 559.8 L771.0 567.4 L775.5 573.4"/>
<path d="M771.0 522.1 L777.1 520.6 L783.1 519.1 L787.6 525.1 L792.2 522.1 L796.0 516.0"/>
<path d="M790.6 576.4 L792.2 585.5 L790.6 594.6 L793.7 603.6 L798.2 608.2 L799.1 614.2 L805.1 618.7 L803.6 624.8 L808.1 630.8 L812.7 638.4 L812.7 642.9"/>
<path d="M645.7 594.6 L644.2 602.1 L653.2 609.7 L659.3 612.7 L665.3 615.7 L674.4 620.2 L680.4 618.7 L684.9 621.7 L688.0 627.8 L691.0 630.8"/>
<path d="M674.4 620.2 L671.3 629.3 L672.9 636.8 L671.3 642.9 L669.8 650.0"/>
<path d="M635.1 629.3 L642.7 638.4 L650.2 642.9 L657.8 645.9"/>
<path d="M863.3 496.7 L863.3 505.0 L870.0 506.7 L876.7 508.3"/>
<path d="M863.3 505.0 L853.3 503.3 L843.3 501.7 L835.0 498.3 L831.7 491.7 L823.3 486.7 L820.0 476.7 L818.3 470.0 L816.7 465.0 L811.7 461.7 L811.7 456.7 L820.0 453.3 L825.0 450.0"/>
<path d="M811.7 461.7 L805.0 463.3 L800.0 460.0 L795.0 458.3 L788.3 460.0 L785.0 466.7 L785.0 475.0 L783.3 486.7 L781.7 491.7 L778.3 491.7 L776.7 486.7 L770.0 486.7 L765.0 483.3 L760.0 486.7"/>
<path d="M800.0 460.0 L803.3 473.3 L800.0 480.0 L795.0 490.0 L791.7 500.0 L793.3 506.7 L796.0 516.0"/>
<path d="M791.7 436.7 L790.0 441.7 L780.0 446.7 L776.7 450.0 L775.0 458.3 L770.0 463.3 L766.7 470.0 L765.0 483.3"/>
<path d="M796.0 516.0 L805.1 514.5 L814.2 516.0 L823.2 516.0 L830.8 520.6 L835.3 525.1 L841.3 520.6 L845.9 523.6 L853.4 525.1 L862.5 523.6 L865.5 516.0 L870.0 513.0 L874.6 510.0"/>
<path d="M862.5 523.6 L868.5 529.6 L874.6 535.7 L880.6 538.7 L888.2 541.7 L895.7 547.8 L903.3 553.8 L907.8 553.8 L904.8 558.3 L900.2 562.9 L895.7 567.4 L891.2 573.4 L888.2 581.0 L885.1 587.0 L883.6 594.6 L880.6 603.6 L886.6 611.2 L889.7 615.7"/>
<path d="M845.9 523.6 L844.4 534.2 L842.9 543.2 L838.3 550.8 L832.3 552.3 L824.7 553.8 L817.2 555.3 L808.1 555.3"/>
<path d="M796.0 516.0 L793.0 529.6 L794.5 540.2 L802.1 547.8 L808.1 555.3 L805.1 564.4"/>
<path d="M898.7 564.4 L901.7 573.4 L901.7 582.5 L904.8 591.5 L909.3 600.6 L912.3 603.6 L916.8 596.1 L919.9 590.0 L924.4 584.0 L927.4 576.4 L927.4 570.4 L922.9 562.9 L919.9 558.3 L916.8 552.3 L915.3 547.8 L918.4 544.7 L925.9 546.2 L932.0 544.7 L936.5 549.3 L932.0 541.7 L930.4 538.7"/>
<path d="M924.4 584.0 L930.4 590.0 L935.0 594.6 L941.0 596.1 L944.0 600.6 L941.0 606.6 L938.0 611.2 L941.0 615.7 L942.5 621.7"/>
<path d="M944.0 600.6 L950.0 593.1 L954.6 587.0 L959.1 584.0 L963.7 585.5 L968.2 591.5"/>
<path d="M959.1 584.0 L960.6 576.4 L965.2 573.4 L969.3 571.4 L975.3 565.3 L973.8 557.8 L972.3 550.2 L976.8 542.7"/>
<path d="M960.2 585.0 L964.8 592.5 L969.3 601.6 L966.3 610.7 L964.8 621.2"/>
<path d="M930.0 588.0 L936.0 594.0 L943.6 595.6 L942.1 604.6 L939.1 610.7 L942.1 619.7"/>
<path d="M815.7 576.4 L818.7 585.5 L817.2 594.6 L820.2 600.6 L824.7 606.6 L829.3 612.7 L832.3 617.2"/>
<path d="M835.3 600.6 L838.3 603.6 L844.4 606.6 L847.4 609.7"/>
<path d="M766.7 457.3 L769.3 466.7 L766.7 474.7 L765.3 482.7 L772.0 488.0 L780.0 489.3"/>
</g>
<g clip-path="url(#fc)" fill="none" stroke="#111" stroke-width="1.4" stroke-linejoin="round">
<path d="M701.5 184.3 L702.5 191.5"/>
<path d="M947.0 615.0 L950.0 612.7 L954.0 614.0 L956.0 618.0 L952.0 620.0 L948.0 619.0 L947.0 615.0"/>
<path d="M34.2 200.0 L35.0 205.8 L36.7 204.2 L40.0 203.0 L46.7 204.2 L51.7 206.7 L55.8 210.8 L53.3 212.5 L46.7 213.3 L51.7 219.2 L54.2 220.8 L55.0 215.0 L60.0 215.0 L65.0 219.2 L62.5 224.2 L66.7 227.5 L74.2 228.0 L78.3 225.0 L70.8 221.7 L69.2 218.3 L75.0 216.7 L86.7 217.5 L93.3 220.0 L100.0 225.0 L111.7 230.8 L115.8 235.0 L117.5 243.3 L121.7 240.8 L130.0 243.0 L138.3 240.8 L145.0 243.0 L150.0 239.7 L156.7 240.0 L161.7 238.3 L166.7 240.8 L170.0 245.0 L175.8 246.7 L179.2 252.5 L178.3 258.3 L175.0 265.0 L171.7 270.0 L166.7 267.0 L162.5 270.8 L164.2 275.8 L170.0 274.2 L176.7 274.2 L181.7 278.3 L182.5 284.2 L176.7 282.5 L173.3 278.3 L165.0 279.2 L160.0 280.0 L157.5 290.0 L161.7 297.5 L168.3 296.7 L175.0 288.3 L179.2 298.3 L186.7 299.2 L198.3 293.3 L204.2 295.0 L210.0 304.2 L216.7 303.3 L212.5 300.0 L216.7 295.8 L224.2 295.3 L228.3 300.0 L235.0 299.2 L240.0 302.5 L244.2 299.7 L250.8 299.7 L256.7 303.3 L261.7 304.7 L266.7 308.0 L277.5 310.3 L280.0 318.3 L290.0 325.0 L298.3 333.3 L303.3 341.7 L310.0 347.0 L316.7 351.7 L323.3 355.3 L331.7 355.0 L335.0 353.0 L341.7 354.2 L346.7 360.0 L350.0 369.2 L345.0 373.3 L340.0 380.0 L335.0 386.7 L320.0 385.0 L313.3 387.5 L300.0 389.2 L286.7 389.7 L280.0 389.2 L270.0 392.0 L262.0 399.0 L256.0 400.0 L248.0 409.0 L240.0 408.0 L239.0 410.0 L232.0 413.0 L222.0 410.0 L210.0 414.0 L200.0 413.0 L188.0 414.0 L178.0 410.4 L170.0 407.6 L164.0 403.6 L154.0 402.6 L144.0 401.4 L130.0 402.6 L122.0 401.0 L114.0 399.4 L106.0 398.4 L98.0 400.0 L90.0 403.0 L82.0 401.6 L70.0 404.0 L64.0 405.6 L58.0 405.0 L50.0 404.0 L42.0 405.0 L35.0 406.6"/>
<path d="M224.0 404.0 L230.0 401.0 L228.0 397.0 L234.0 395.0 L236.0 389.0 L239.0 395.0 L235.0 398.0 L238.0 403.0 L239.0 410.0 L232.0 413.0 L234.0 402.0 L224.0 404.0"/>
<path d="M180.8 287.5 L186.7 285.8 L190.0 289.7 L185.0 290.8 L180.8 287.5"/>
<path d="M34.8 632.1 L37.2 635.5 L39.7 640.4 L46.4 640.4 L52.3 643.3 L57.1 647.2 L63.0 648.2 L68.8 650.6 L74.6 649.1 L79.5 653.0 L86.3 654.5 L90.1 656.4 L93.0 662.7 L96.9 666.6 L99.8 674.4 L102.8 685.0 L107.1 689.4 L103.7 691.8 L97.9 695.2 L92.1 694.3 L87.2 697.7 L82.4 695.7 L76.5 696.7 L69.7 698.2 L63.9 697.2 L58.1 694.3 L55.2 690.4 L51.3 687.0 L46.4 686.5 L41.6 686.5 L36.7 688.4 L40.6 686.0 L35.3 681.7"/>
<path d="M400.4 252.4 L404.7 249.8 L404.7 242.9 L414.2 238.6 L422.8 229.1 L430.6 229.1 L435.7 226.8 L440.9 229.1 L445.2 234.3 L450.4 236.9 L459.0 233.4 L466.8 229.1 L469.4 222.2 L474.6 213.6 L479.7 209.2 L482.3 215.3 L480.6 230.8 L478.0 237.7 L465.9 258.4 L459.0 261.0 L447.0 263.6 L433.1 265.3 L424.5 266.2 L410.7 264.5 L402.1 263.6 L400.4 252.4"/>
<path d="M476.3 186.0 L484.1 178.2 L492.7 185.1 L484.9 189.4 L478.0 195.4 L476.3 186.0"/>
<path d="M546.2 158.3 L547.9 165.2"/>
<path d="M599.2 121.3 L606.7 121.3 L611.7 123.3 L611.3 127.9 L610.8 132.1 L613.8 136.7 L607.5 135.4 L606.7 127.9 L601.7 130.4 L597.5 126.7 L599.2 121.3"/>
<path d="M618.3 135.4 L623.3 137.9 L637.5 137.9 L641.3 143.3 L641.7 150.4 L631.7 145.4 L623.3 145.4 L618.8 142.9 L618.3 135.4"/>
<path d="M649.2 150.4 L653.3 153.3 L660.0 153.3 L663.8 159.2 L653.3 154.6 L649.2 150.4"/>
<path d="M579.0 142.5 L581.0 143.5 L580.0 145.0 L579.0 142.5"/>
<path d="M487.0 387.0 L495.0 384.0 L510.0 385.0 L520.0 390.0 L527.0 396.0 L515.0 397.0 L500.0 394.0 L490.0 391.0 L487.0 387.0"/>
<path d="M448.3 546.8 L452.9 543.0 L458.9 541.5 L468.0 545.3 L478.5 548.3 L487.6 552.9 L496.6 558.9 L502.7 561.9 L505.7 568.0 L506.5 575.5 L504.2 579.3 L498.2 577.0 L490.6 574.0 L481.5 572.5 L475.5 569.5 L468.0 563.4 L457.4 559.6 L451.3 554.4 L448.3 546.8"/>
<path d="M428.3 433.5 L430.1 428.0 L432.8 424.3 L434.7 421.6 L433.8 419.8 L438.3 418.5 L440.2 419.8 L449.3 415.2 L456.7 411.5 L464.0 407.5 L473.2 408.2 L484.2 407.8 L493.3 406.0 L506.2 403.3 L515.3 405.1 L522.7 407.8 L531.8 412.4 L539.2 418.8 L546.5 421.6 L553.8 422.5 L559.3 427.1 L561.2 431.7 L563.0 437.2 L564.8 430.8 L572.2 428.9 L577.7 428.0 L579.5 431.7 L585.0 431.7 L588.7 433.5 L594.2 437.2 L597.8 439.0 L601.5 435.3 L612.5 435.3 L621.7 437.2 L629.0 438.1 L632.7 439.0 L630.8 431.7 L627.2 428.0 L628.0 424.0 L633.3 420.0 L640.0 413.3 L641.3 411.3 L649.3 409.3 L660.0 410.7 L668.0 413.3 L677.3 417.3 L688.0 420.7 L693.3 416.0 L700.0 418.7 L706.7 413.3 L713.3 406.7 L720.0 406.7 L726.7 410.0 L736.0 410.0 L742.7 418.7 L753.3 425.3 L764.0 430.0 L772.0 430.7 L776.0 428.0 L780.0 426.7 L785.0 430.0 L791.7 436.7 L798.3 443.3 L805.0 446.7 L815.0 450.0 L823.3 449.2 L826.7 445.0 L831.7 441.7 L840.0 441.7 L845.0 445.0 L847.5 453.3 L846.7 461.7 L850.0 470.0 L851.7 480.0 L856.7 488.3 L863.3 495.0 L870.0 496.7 L880.0 493.3 L890.0 490.8 L901.7 491.7 L911.7 495.8 L916.7 493.3 L921.7 488.3 L925.8 486.7 L925.0 493.3 L933.3 495.8 L931.7 501.7 L926.7 508.3 L926.7 511.7 L910.0 510.8 L893.3 509.2 L878.3 505.8 L877.5 516.7 L878.3 525.0 L890.0 524.2 L898.3 525.0 L906.7 526.7 L913.3 531.7 L923.3 535.0 L935.0 533.3 L943.3 538.3 L951.7 535.0 L960.8 533.6 L968.4 538.2 L975.9 542.7 L983.5 545.7 L991.0 551.7 L998.6 559.3 L1006.1 566.8 L1013.7 575.9 L1014.6 577.4 L1023.7 583.5 L1029.7 589.5 L1030.5 595.6 L1026.7 603.1 L1020.7 610.7 L1016.9 618.2 L1016.1 625.8 L1011.6 628.8 L1004.0 626.5 L998.0 625.8 L998.8 633.3 L995.0 640.9 L993.5 646.9 L987.4 648.4 L981.4 646.9 L975.3 634.8 L970.8 625.8 L964.8 622.0 L955.7 619.7 L945.1 622.0 L937.6 620.5 L930.0 618.2 L927.4 614.2 L915.3 615.7 L901.7 618.0 L891.2 621.0 L886.6 618.7 L880.6 615.7 L877.6 620.2 L873.1 620.2 L868.5 614.2 L858.0 612.7 L848.9 612.7 L841.3 615.7 L833.8 618.7 L829.3 624.8 L823.2 633.8 L815.7 644.4 L802.1 645.9 L795.7 645.0 L785.0 646.0 L776.0 649.7 L770.0 648.0 L773.0 645.0 L768.5 639.0 L767.0 628.5 L765.5 621.0 L759.5 617.2 L753.4 619.5 L752.0 625.5 L747.4 628.5 L738.3 629.3 L733.8 631.5 L724.7 640.6 L721.2 638.0 L717.7 633.7 L710.8 634.5 L705.7 639.7 L709.1 644.9 L710.0 653.5 L705.7 663.9 L700.5 674.2 L693.6 686.3 L686.7 696.7 L679.8 710.5 L674.6 720.8 L669.4 732.1 L666.0 729.5 L662.5 720.8 L657.3 713.9 L648.7 710.5 L641.8 712.2 L637.5 709.6 L641.8 705.3 L642.6 700.1 L640.0 693.2 L640.0 686.3 L634.9 677.7 L628.0 672.5 L622.8 669.0 L619.3 662.1 L614.2 655.2 L607.3 650.9 L598.6 647.5 L590.0 644.5 L574.5 645.0 L549.6 646.7 L534.8 647.5 L529.7 641.8 L525.3 646.2 L516.7 653.8 L505.9 658.1 L495.0 657.0 L484.2 652.7 L473.3 649.4 L462.5 647.3 L451.7 645.1 L443.0 644.0 L434.3 639.7 L425.7 641.8 L414.8 641.8 L406.2 644.0 L401.8 646.2 L395.3 650.5 L386.7 654.8 L384.5 661.3 L391.0 670.0 L388.8 673.3 L378.0 674.3 L373.7 670.0 L367.2 661.3 L358.5 654.8 L347.7 641.8 L336.8 639.7 L326.0 637.5 L313.0 624.5 L309.8 618.0 L313.0 605.0 L316.3 592.0 L321.7 586.6 L332.5 583.3 L343.3 583.3 L354.2 586.6 L365.0 593.1 L373.7 596.3 L382.3 598.5 L388.8 602.8 L393.2 599.6 L401.8 598.5 L405.1 602.8 L408.3 606.1 L417.0 602.8 L425.7 603.9 L440.8 605.0 L456.0 609.3 L473.3 613.7 L495.0 615.8 L500.0 616.5 L509.9 614.0 L519.9 609.0 L524.8 601.6 L532.3 599.1 L549.6 601.6 L557.1 599.1 L559.6 591.6 L560.8 583.0 L554.6 576.7 L544.7 569.3 L537.2 565.6 L529.8 556.9 L522.3 547.0 L514.9 539.5 L506.2 532.0 L505.0 527.1 L509.9 519.6 L511.2 512.2 L507.4 506.0 L511.2 502.3 L509.9 497.3 L514.9 492.3 L513.7 484.9 L518.6 480.0 L518.0 474.0 L512.0 471.0 L504.3 466.5 L497.0 461.0 L489.7 455.5 L483.3 451.8 L478.7 450.0 L473.2 448.2 L467.7 450.0 L462.2 448.2 L458.5 444.5 L456.7 448.2 L447.5 448.5 L438.3 449.0 L432.8 446.3 L429.2 440.8 L428.3 433.5"/>
<path d="M387.0 590.0 L392.0 587.0 L399.0 589.0 L401.0 594.0 L394.0 596.0 L388.0 594.0 L387.0 590.0"/>
<path d="M398.0 597.0 L405.0 595.0 L412.0 596.0 L417.0 599.0 L410.0 602.0 L402.0 601.0 L398.0 597.0"/>
<path d="M400.0 664.0 L405.0 662.0 L413.0 664.0 L416.0 668.0 L410.0 670.0 L403.0 669.0 L400.0 664.0"/>
<path d="M596.0 587.0 L599.0 586.0 L604.0 593.0 L610.0 604.0 L607.0 608.0 L601.0 603.0 L595.0 594.0 L596.0 587.0"/>
<path d="M626.0 605.0 L635.0 601.0 L644.0 603.0 L652.0 606.0 L658.0 612.0 L653.0 617.0 L645.0 619.0 L636.0 616.0 L629.0 612.0 L626.0 605.0"/>
<path d="M976.8 651.5 L979.9 656.0 L990.4 655.0 L999.5 658.5 L1003.0 660.5 L995.0 661.0 L985.0 659.5 L978.0 657.0 L976.8 651.5"/>
<path d="M1076.7 665.0 L1081.7 661.7 L1086.7 665.0 L1085.0 668.3 L1078.3 668.3 L1076.7 665.0"/>
</g>
<g stroke="#b4b4b4" stroke-width="1.2" stroke-dasharray="2 7.82" fill="none">
<line x1="32.16" y1="115.4" x2="1134" y2="115.4"/>
<line x1="32.16" y1="185.7" x2="1134" y2="185.7"/>
<line x1="32.16" y1="255.9" x2="1134" y2="255.9"/>
<line x1="32.16" y1="326.1" x2="1134" y2="326.1"/>
<line x1="32.16" y1="396.4" x2="1134" y2="396.4"/>
<line x1="32.16" y1="466.6" x2="1134" y2="466.6"/>
<line x1="32.16" y1="536.9" x2="1134" y2="536.9"/>
<line x1="32.16" y1="607.1" x2="1134" y2="607.1"/>
<line x1="32.16" y1="677.4" x2="1134" y2="677.4"/>
<line x1="32.16" y1="747.6" x2="1134" y2="747.6"/>
<line x1="32.16" y1="817.9" x2="1134" y2="817.9"/>
<line x1="32.16" y1="888.1" x2="1134" y2="888.1"/>
<line x1="131.5" y1="106.6" x2="131.5" y2="907"/>
<line x1="248.7" y1="106.6" x2="248.7" y2="907"/>
<line x1="366.0" y1="106.6" x2="366.0" y2="907"/>
<line x1="483.2" y1="106.6" x2="483.2" y2="907"/>
<line x1="600.5" y1="106.6" x2="600.5" y2="907"/>
<line x1="717.7" y1="106.6" x2="717.7" y2="907"/>
<line x1="834.9" y1="106.6" x2="834.9" y2="907"/>
<line x1="952.2" y1="106.6" x2="952.2" y2="907"/>
<line x1="1069.4" y1="106.6" x2="1069.4" y2="907"/>
</g>
<line x1="33" y1="100.5" x2="1134" y2="100.5" stroke="#eeeeee" stroke-width="1"/>
<g stroke="#b4b4b4" stroke-width="1.2">
<line x1="28.8" y1="115.4" x2="31" y2="115.4"/>
<line x1="28.8" y1="185.7" x2="31" y2="185.7"/>
<line x1="28.8" y1="255.9" x2="31" y2="255.9"/>
<line x1="28.8" y1="326.1" x2="31" y2="326.1"/>
<line x1="28.8" y1="396.4" x2="31" y2="396.4"/>
<line x1="28.8" y1="466.6" x2="31" y2="466.6"/>
<line x1="28.8" y1="536.9" x2="31" y2="536.9"/>
<line x1="28.8" y1="607.1" x2="31" y2="607.1"/>
<line x1="28.8" y1="677.4" x2="31" y2="677.4"/>
<line x1="28.8" y1="747.6" x2="31" y2="747.6"/>
<line x1="28.8" y1="817.9" x2="31" y2="817.9"/>
<line x1="28.8" y1="888.1" x2="31" y2="888.1"/>
</g>
<g fill="#999" font-size="13">
<text x="4.5" y="120.2" textLength="20.7" lengthAdjust="spacingAndGlyphs">22N</text>
<text x="1.5" y="190.5" textLength="23.7" lengthAdjust="spacingAndGlyphs">1.5N</text>
<text x="4.5" y="260.7" textLength="20.7" lengthAdjust="spacingAndGlyphs">21N</text>
<text x="1.5" y="330.9" textLength="23.7" lengthAdjust="spacingAndGlyphs">0.5N</text>
<text x="4.5" y="401.2" textLength="20.7" lengthAdjust="spacingAndGlyphs">20N</text>
<text x="1.5" y="471.4" textLength="23.7" lengthAdjust="spacingAndGlyphs">9.5N</text>
<text x="4.5" y="541.7" textLength="20.7" lengthAdjust="spacingAndGlyphs">19N</text>
<text x="1.5" y="611.9" textLength="23.7" lengthAdjust="spacingAndGlyphs">8.5N</text>
<text x="4.5" y="682.2" textLength="20.7" lengthAdjust="spacingAndGlyphs">18N</text>
<text x="1.5" y="752.4" textLength="23.7" lengthAdjust="spacingAndGlyphs">7.5N</text>
<text x="4.5" y="822.7" textLength="20.7" lengthAdjust="spacingAndGlyphs">17N</text>
<text x="1.5" y="892.9" textLength="23.7" lengthAdjust="spacingAndGlyphs">6.5N</text>
</g>
<g fill="#999" font-size="13">
<text x="120.7" y="919" textLength="21.7" lengthAdjust="spacingAndGlyphs">76W</text>
<text x="237.9" y="919" textLength="21.7" lengthAdjust="spacingAndGlyphs">75W</text>
<text x="355.1" y="919" textLength="21.7" lengthAdjust="spacingAndGlyphs">74W</text>
<text x="472.4" y="919" textLength="21.7" lengthAdjust="spacingAndGlyphs">73W</text>
<text x="589.6" y="919" textLength="21.7" lengthAdjust="spacingAndGlyphs">72W</text>
<text x="706.8" y="919" textLength="21.7" lengthAdjust="spacingAndGlyphs">71W</text>
<text x="824.1" y="919" textLength="21.7" lengthAdjust="spacingAndGlyphs">70W</text>
<text x="941.3" y="919" textLength="21.7" lengthAdjust="spacingAndGlyphs">69W</text>
<text x="1058.6" y="919" textLength="21.7" lengthAdjust="spacingAndGlyphs">68W</text>
</g>
<rect x="1145.5" y="99.46" width="16" height="61.84" fill="#f00082"/>
<rect x="1145.5" y="161.30" width="16" height="61.84" fill="#fa3c3c"/>
<rect x="1145.5" y="223.14" width="16" height="61.84" fill="#f08228"/>
<rect x="1145.5" y="284.98" width="16" height="61.84" fill="#e6af2d"/>
<rect x="1145.5" y="346.82" width="16" height="61.84" fill="#e6dc32"/>
<rect x="1145.5" y="408.66" width="16" height="61.84" fill="#a0e632"/>
<rect x="1145.5" y="470.50" width="16" height="61.84" fill="#00dc00"/>
<rect x="1145.5" y="532.34" width="16" height="61.84" fill="#00d28c"/>
<rect x="1145.5" y="594.18" width="16" height="61.84" fill="#00c8c8"/>
<rect x="1145.5" y="656.02" width="16" height="61.84" fill="#00a0ff"/>
<rect x="1145.5" y="717.86" width="16" height="61.84" fill="#1e3cff"/>
<rect x="1145.5" y="779.70" width="16" height="61.84" fill="#8200dc"/>
<rect x="1145.5" y="841.54" width="16" height="61.84" fill="#a000c8"/>
<line x1="1146" y1="161.30" x2="1161.3" y2="161.30" stroke="#f6f0e0" stroke-width="0.9"/>
<line x1="1146" y1="223.14" x2="1161.3" y2="223.14" stroke="#f6f0e0" stroke-width="0.9"/>
<line x1="1146" y1="284.98" x2="1161.3" y2="284.98" stroke="#f6f0e0" stroke-width="0.9"/>
<line x1="1146" y1="346.82" x2="1161.3" y2="346.82" stroke="#f6f0e0" stroke-width="0.9"/>
<line x1="1146" y1="408.66" x2="1161.3" y2="408.66" stroke="#f6f0e0" stroke-width="0.9"/>
<line x1="1146" y1="470.50" x2="1161.3" y2="470.50" stroke="#f6f0e0" stroke-width="0.9"/>
<line x1="1146" y1="532.34" x2="1161.3" y2="532.34" stroke="#f6f0e0" stroke-width="0.9"/>
<line x1="1146" y1="594.18" x2="1161.3" y2="594.18" stroke="#f6f0e0" stroke-width="0.9"/>
<line x1="1146" y1="656.02" x2="1161.3" y2="656.02" stroke="#f6f0e0" stroke-width="0.9"/>
<line x1="1146" y1="717.86" x2="1161.3" y2="717.86" stroke="#f6f0e0" stroke-width="0.9"/>
<line x1="1146" y1="779.70" x2="1161.3" y2="779.70" stroke="#f6f0e0" stroke-width="0.9"/>
<line x1="1146" y1="841.54" x2="1161.3" y2="841.54" stroke="#f6f0e0" stroke-width="0.9"/>
<rect x="1145.2" y="99.2" width="16.6" height="803.8" fill="none" stroke="#d2d2d2" stroke-width="1.8"/>
<g fill="#111" font-size="13.6">
<text x="1166.3" y="166.2">−43.1</text>
<text x="1166.3" y="228.0">−43.2</text>
<text x="1166.3" y="289.9">−43.2</text>
<text x="1166.3" y="351.7">−43.3</text>
<text x="1166.3" y="413.6">−43.3</text>
<text x="1166.3" y="475.4">−43.4</text>
<text x="1166.3" y="537.2">−43.4</text>
<text x="1166.3" y="599.1">−43.5</text>
<text x="1166.3" y="660.9">−43.5</text>
<text x="1166.3" y="722.8">−43.6</text>
<text x="1166.3" y="784.6">−43.6</text>
<text x="1166.3" y="846.4">−43.7</text>
</g>
<g font-size="31" fill="#111" stroke="#fff" stroke-width="1.1">
<text x="402" y="33.5" textLength="92.5" lengthAdjust="spacingAndGlyphs">Indice</text>
<text x="520" y="33.5" textLength="33" lengthAdjust="spacingAndGlyphs">de</text>
<text x="579" y="33.5" textLength="243" lengthAdjust="spacingAndGlyphs">Levantamiento</text>
</g>
<g font-size="17" fill="#2a40f0">
<text x="60.0" y="60.3" textLength="131.5" lengthAdjust="spacingAndGlyphs">18–Oct–2025</text>
<text x="291.1" y="60.3" textLength="45.8" lengthAdjust="spacingAndGlyphs">0900</text>
<text x="350.0" y="60.3" textLength="33.5" lengthAdjust="spacingAndGlyphs">UTC</text>
<text x="402.1" y="60.3" text-anchor="middle">/</text>
<text x="420.0" y="60.3" textLength="40.8" lengthAdjust="spacingAndGlyphs">6:00</text>
<text x="473.0" y="60.3" textLength="27.2" lengthAdjust="spacingAndGlyphs">am</text>
<text x="512.7" y="60.3" textLength="42.9" lengthAdjust="spacingAndGlyphs">Hora</text>
<text x="567.3" y="60.3" textLength="46.7" lengthAdjust="spacingAndGlyphs">Local</text>
</g>
<g font-size="14.5" fill="#0a98f5">
<text x="46.7" y="81.3" textLength="88.3" lengthAdjust="spacingAndGlyphs">Pronóstico</text>
<text x="147.3" y="81.3" textLength="27.7" lengthAdjust="spacingAndGlyphs">con</text>
<text x="186.7" y="81.3" textLength="13.3" lengthAdjust="spacingAndGlyphs">el</text>
<text x="211.7" y="81.3" textLength="56.6" lengthAdjust="spacingAndGlyphs">Modelo</text>
<text x="279.3" y="81.3" textLength="99.0" lengthAdjust="spacingAndGlyphs">Atmósferico</text>
<text x="389.3" y="81.3" textLength="30.7" lengthAdjust="spacingAndGlyphs">WRF</text>
<text x="434.0" y="81.3" textLength="90.3" lengthAdjust="spacingAndGlyphs">inicializado</text>
<text x="541.4" y="81.3" text-anchor="middle">a</text>
<text x="556.0" y="81.3" textLength="24.0" lengthAdjust="spacingAndGlyphs">las</text>
<text x="590.0" y="81.3" textLength="182.7" lengthAdjust="spacingAndGlyphs">0600UTC_18OCT2025</text>
<text x="786.7" y="81.3" text-anchor="middle">y</text>
<text x="803.0" y="81.3" textLength="46.5" lengthAdjust="spacingAndGlyphs">válido</text>
<text x="861.5" y="81.3" textLength="45.0" lengthAdjust="spacingAndGlyphs">hasta</text>
<text x="916.4" y="81.3" textLength="23.6" lengthAdjust="spacingAndGlyphs">las</text>
<text x="962.0" y="81.3" textLength="181.5" lengthAdjust="spacingAndGlyphs">0600UTC_20OCT2025</text>
</g>
<text x="6" y="922" font-size="15.5" fill="#111" textLength="94" lengthAdjust="spacingAndGlyphs">GrADS/COLA</text>
<rect x="916.5" y="877.5" width="207" height="20.5" fill="#fff" stroke="#b8b8b8" stroke-width="1"/>
<text x="931.6" y="894" font-size="15" fill="#1e9af5" textLength="21" lengthAdjust="spacingAndGlyphs">Sis</text>
<text x="954" y="894" font-size="20" fill="#2038ff" stroke="#fff" stroke-width="0.7" textLength="16.5" lengthAdjust="spacingAndGlyphs">π</text>
<text x="974" y="894" font-size="15" fill="#444">–</text>
<text x="993" y="894" font-size="15" fill="#444" textLength="125" lengthAdjust="spacingAndGlyphs">ONAMET/REP.DOM.</text>
</svg></body></html>
